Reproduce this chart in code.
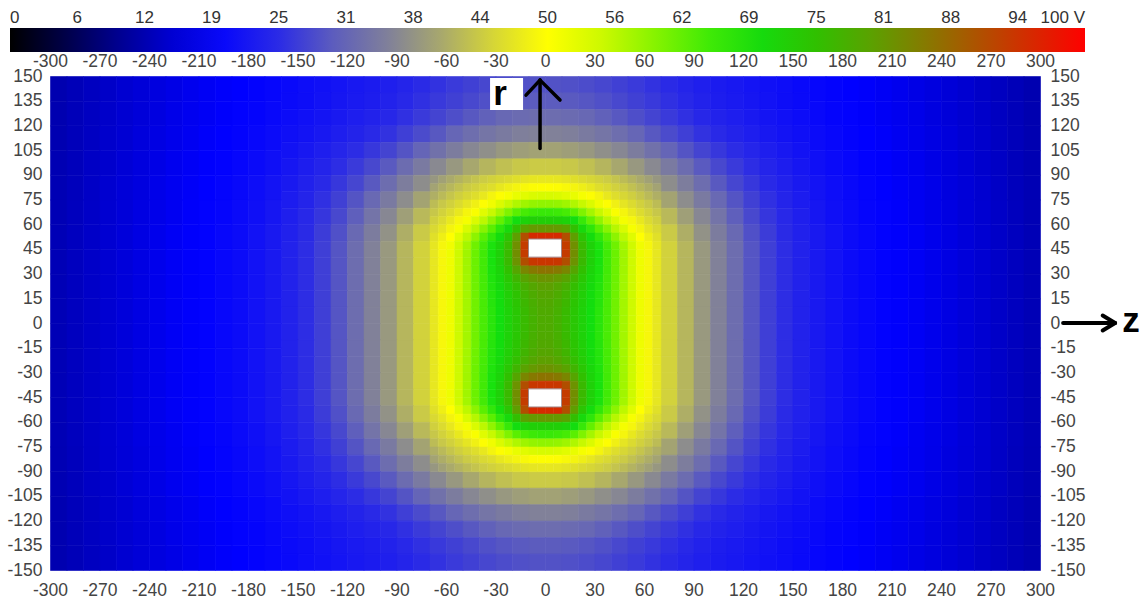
{
"width":990,"height":494,
"autosize":{"type":"none"},
"padding":{"left":50,"top":76,"right":107,"bottom":32},
"background":"white",
"config":{"view":{"stroke":null},"axis":{"labelFont":"Liberation Sans","labelFontSize":17.5,"labelColor":"#444","ticks":false,"domain":false,"grid":false,"title":null,"labelOverlap":false,"labelFlush":false},"legend":{"gradientHorizontalMaxLength":1100}},
"datasets":{
"core":[
{"z":-67.5,"r":87.5,"v":38.3},{"z":-62.5,"r":87.5,"v":39.3},{"z":-57.5,"r":87.5,"v":40.3},{"z":-52.5,"r":87.5,"v":41.2},{"z":-47.5,"r":87.5,"v":42.1},{"z":-42.5,"r":87.5,"v":42.9},{"z":-37.5,"r":87.5,"v":43.7},{"z":-32.5,"r":87.5,"v":44.4},{"z":-27.5,"r":87.5,"v":45},{"z":-22.5,"r":87.5,"v":45.5},{"z":-17.5,"r":87.5,"v":46.1},{"z":-12.5,"r":87.5,"v":46.6},{"z":-7.5,"r":87.5,"v":46.9},{"z":-2.5,"r":87.5,"v":47.1},{"z":2.5,"r":87.5,"v":47.1},{"z":7.5,"r":87.5,"v":46.9},{"z":12.5,"r":87.5,"v":46.6},{"z":17.5,"r":87.5,"v":46.1},{"z":22.5,"r":87.5,"v":45.5},{"z":27.5,"r":87.5,"v":45},{"z":32.5,"r":87.5,"v":44.4},{"z":37.5,"r":87.5,"v":43.7},{"z":42.5,"r":87.5,"v":42.9},{"z":47.5,"r":87.5,"v":42.1},{"z":52.5,"r":87.5,"v":41.2},{"z":57.5,"r":87.5,"v":40.3},{"z":62.5,"r":87.5,"v":39.3},{"z":67.5,"r":87.5,"v":38.3},
{"z":-67.5,"r":82.5,"v":39.5},{"z":-62.5,"r":82.5,"v":40.6},{"z":-57.5,"r":82.5,"v":41.6},{"z":-52.5,"r":82.5,"v":42.6},{"z":-47.5,"r":82.5,"v":43.6},{"z":-42.5,"r":82.5,"v":44.4},{"z":-37.5,"r":82.5,"v":45.3},{"z":-32.5,"r":82.5,"v":46},{"z":-27.5,"r":82.5,"v":47.1},{"z":-22.5,"r":82.5,"v":47.9},{"z":-17.5,"r":82.5,"v":48.6},{"z":-12.5,"r":82.5,"v":49.2},{"z":-7.5,"r":82.5,"v":49.6},{"z":-2.5,"r":82.5,"v":49.8},{"z":2.5,"r":82.5,"v":49.8},{"z":7.5,"r":82.5,"v":49.6},{"z":12.5,"r":82.5,"v":49.2},{"z":17.5,"r":82.5,"v":48.6},{"z":22.5,"r":82.5,"v":47.9},{"z":27.5,"r":82.5,"v":47.1},{"z":32.5,"r":82.5,"v":46},{"z":37.5,"r":82.5,"v":45.3},{"z":42.5,"r":82.5,"v":44.4},{"z":47.5,"r":82.5,"v":43.6},{"z":52.5,"r":82.5,"v":42.6},{"z":57.5,"r":82.5,"v":41.6},{"z":62.5,"r":82.5,"v":40.6},{"z":67.5,"r":82.5,"v":39.5},
{"z":-67.5,"r":77.5,"v":40.8},{"z":-62.5,"r":77.5,"v":41.9},{"z":-57.5,"r":77.5,"v":43},{"z":-52.5,"r":77.5,"v":44.1},{"z":-47.5,"r":77.5,"v":45.1},{"z":-42.5,"r":77.5,"v":46},{"z":-37.5,"r":77.5,"v":47.2},{"z":-32.5,"r":77.5,"v":48.6},{"z":-27.5,"r":77.5,"v":49.8},{"z":-22.5,"r":77.5,"v":50.9},{"z":-17.5,"r":77.5,"v":52.2},{"z":-12.5,"r":77.5,"v":53},{"z":-7.5,"r":77.5,"v":53.7},{"z":-2.5,"r":77.5,"v":54},{"z":2.5,"r":77.5,"v":54},{"z":7.5,"r":77.5,"v":53.7},{"z":12.5,"r":77.5,"v":53},{"z":17.5,"r":77.5,"v":52.2},{"z":22.5,"r":77.5,"v":50.9},{"z":27.5,"r":77.5,"v":49.8},{"z":32.5,"r":77.5,"v":48.6},{"z":37.5,"r":77.5,"v":47.2},{"z":42.5,"r":77.5,"v":46},{"z":47.5,"r":77.5,"v":45.1},{"z":52.5,"r":77.5,"v":44.1},{"z":57.5,"r":77.5,"v":43},{"z":62.5,"r":77.5,"v":41.9},{"z":67.5,"r":77.5,"v":40.8},
{"z":-67.5,"r":72.5,"v":42.1},{"z":-62.5,"r":72.5,"v":43.3},{"z":-57.5,"r":72.5,"v":44.4},{"z":-52.5,"r":72.5,"v":45.6},{"z":-47.5,"r":72.5,"v":46.8},{"z":-42.5,"r":72.5,"v":48.2},{"z":-37.5,"r":72.5,"v":49.8},{"z":-32.5,"r":72.5,"v":51.5},{"z":-27.5,"r":72.5,"v":53.6},{"z":-22.5,"r":72.5,"v":55.6},{"z":-17.5,"r":72.5,"v":57.3},{"z":-12.5,"r":72.5,"v":58.4},{"z":-7.5,"r":72.5,"v":59.1},{"z":-2.5,"r":72.5,"v":59.4},{"z":2.5,"r":72.5,"v":59.4},{"z":7.5,"r":72.5,"v":59.1},{"z":12.5,"r":72.5,"v":58.4},{"z":17.5,"r":72.5,"v":57.3},{"z":22.5,"r":72.5,"v":55.6},{"z":27.5,"r":72.5,"v":53.6},{"z":32.5,"r":72.5,"v":51.5},{"z":37.5,"r":72.5,"v":49.8},{"z":42.5,"r":72.5,"v":48.2},{"z":47.5,"r":72.5,"v":46.8},{"z":52.5,"r":72.5,"v":45.6},{"z":57.5,"r":72.5,"v":44.4},{"z":62.5,"r":72.5,"v":43.3},{"z":67.5,"r":72.5,"v":42.1},
{"z":-67.5,"r":67.5,"v":43.2},{"z":-62.5,"r":67.5,"v":44.5},{"z":-57.5,"r":67.5,"v":45.7},{"z":-52.5,"r":67.5,"v":47.2},{"z":-47.5,"r":67.5,"v":48.8},{"z":-42.5,"r":67.5,"v":50.6},{"z":-37.5,"r":67.5,"v":53.1},{"z":-32.5,"r":67.5,"v":55.5},{"z":-27.5,"r":67.5,"v":58},{"z":-22.5,"r":67.5,"v":60.5},{"z":-17.5,"r":67.5,"v":63},{"z":-12.5,"r":67.5,"v":64.5},{"z":-7.5,"r":67.5,"v":65.2},{"z":-2.5,"r":67.5,"v":65.6},{"z":2.5,"r":67.5,"v":65.6},{"z":7.5,"r":67.5,"v":65.2},{"z":12.5,"r":67.5,"v":64.5},{"z":17.5,"r":67.5,"v":63},{"z":22.5,"r":67.5,"v":60.5},{"z":27.5,"r":67.5,"v":58},{"z":32.5,"r":67.5,"v":55.5},{"z":37.5,"r":67.5,"v":53.1},{"z":42.5,"r":67.5,"v":50.6},{"z":47.5,"r":67.5,"v":48.8},{"z":52.5,"r":67.5,"v":47.2},{"z":57.5,"r":67.5,"v":45.7},{"z":62.5,"r":67.5,"v":44.5},{"z":67.5,"r":67.5,"v":43.2},
{"z":-67.5,"r":62.5,"v":44.3},{"z":-62.5,"r":62.5,"v":45.6},{"z":-57.5,"r":62.5,"v":47.2},{"z":-52.5,"r":62.5,"v":48.9},{"z":-47.5,"r":62.5,"v":51},{"z":-42.5,"r":62.5,"v":53.7},{"z":-37.5,"r":62.5,"v":56.5},{"z":-32.5,"r":62.5,"v":59.3},{"z":-27.5,"r":62.5,"v":62.3},{"z":-22.5,"r":62.5,"v":65.7},{"z":-17.5,"r":62.5,"v":69.3},{"z":-12.5,"r":62.5,"v":71.2},{"z":-7.5,"r":62.5,"v":72},{"z":-2.5,"r":62.5,"v":72.3},{"z":2.5,"r":62.5,"v":72.3},{"z":7.5,"r":62.5,"v":72},{"z":12.5,"r":62.5,"v":71.2},{"z":17.5,"r":62.5,"v":69.3},{"z":22.5,"r":62.5,"v":65.7},{"z":27.5,"r":62.5,"v":62.3},{"z":32.5,"r":62.5,"v":59.3},{"z":37.5,"r":62.5,"v":56.5},{"z":42.5,"r":62.5,"v":53.7},{"z":47.5,"r":62.5,"v":51},{"z":52.5,"r":62.5,"v":48.9},{"z":57.5,"r":62.5,"v":47.2},{"z":62.5,"r":62.5,"v":45.6},{"z":67.5,"r":62.5,"v":44.3},
{"z":-67.5,"r":57.5,"v":45.3},{"z":-62.5,"r":57.5,"v":46.8},{"z":-57.5,"r":57.5,"v":48.7},{"z":-52.5,"r":57.5,"v":50.8},{"z":-47.5,"r":57.5,"v":53.8},{"z":-42.5,"r":57.5,"v":56.9},{"z":-37.5,"r":57.5,"v":59.9},{"z":-32.5,"r":57.5,"v":63},{"z":-27.5,"r":57.5,"v":66.4},{"z":-22.5,"r":57.5,"v":70.2},{"z":-17.5,"r":57.5,"v":75.1},{"z":-12.5,"r":57.5,"v":80},{"z":-7.5,"r":57.5,"v":81.3},{"z":-2.5,"r":57.5,"v":81.5},{"z":2.5,"r":57.5,"v":81.5},{"z":7.5,"r":57.5,"v":81.3},{"z":12.5,"r":57.5,"v":80},{"z":17.5,"r":57.5,"v":75.1},{"z":22.5,"r":57.5,"v":70.2},{"z":27.5,"r":57.5,"v":66.4},{"z":32.5,"r":57.5,"v":63},{"z":37.5,"r":57.5,"v":59.9},{"z":42.5,"r":57.5,"v":56.9},{"z":47.5,"r":57.5,"v":53.8},{"z":52.5,"r":57.5,"v":50.8},{"z":57.5,"r":57.5,"v":48.7},{"z":62.5,"r":57.5,"v":46.8},{"z":67.5,"r":57.5,"v":45.3},
{"z":-67.5,"r":52.5,"v":46.2},{"z":-62.5,"r":52.5,"v":48.1},{"z":-57.5,"r":52.5,"v":50},{"z":-52.5,"r":52.5,"v":53.1},{"z":-47.5,"r":52.5,"v":56.4},{"z":-42.5,"r":52.5,"v":59.6},{"z":-37.5,"r":52.5,"v":62.9},{"z":-32.5,"r":52.5,"v":66.1},{"z":-27.5,"r":52.5,"v":69.5},{"z":-22.5,"r":52.5,"v":73.9},{"z":-17.5,"r":52.5,"v":80.4},{"z":-12.5,"r":52.5,"v":90.5},{"z":-7.5,"r":52.5,"v":94.8},{"z":-2.5,"r":52.5,"v":94.9},{"z":2.5,"r":52.5,"v":94.9},{"z":7.5,"r":52.5,"v":94.8},{"z":12.5,"r":52.5,"v":90.5},{"z":17.5,"r":52.5,"v":80.4},{"z":22.5,"r":52.5,"v":73.9},{"z":27.5,"r":52.5,"v":69.5},{"z":32.5,"r":52.5,"v":66.1},{"z":37.5,"r":52.5,"v":62.9},{"z":42.5,"r":52.5,"v":59.6},{"z":47.5,"r":52.5,"v":56.4},{"z":52.5,"r":52.5,"v":53.1},{"z":57.5,"r":52.5,"v":50},{"z":62.5,"r":52.5,"v":48.1},{"z":67.5,"r":52.5,"v":46.2},
{"z":-67.5,"r":47.5,"v":46.9},{"z":-62.5,"r":47.5,"v":48.9},{"z":-57.5,"r":47.5,"v":51.4},{"z":-52.5,"r":47.5,"v":54.7},{"z":-47.5,"r":47.5,"v":58.1},{"z":-42.5,"r":47.5,"v":61.5},{"z":-37.5,"r":47.5,"v":64.7},{"z":-32.5,"r":47.5,"v":67.8},{"z":-27.5,"r":47.5,"v":71.5},{"z":-22.5,"r":47.5,"v":75.9},{"z":-17.5,"r":47.5,"v":82.4},{"z":-12.5,"r":47.5,"v":92.6},{"z":-7.5,"r":47.5,"v":100},{"z":-2.5,"r":47.5,"v":100},{"z":2.5,"r":47.5,"v":100},{"z":7.5,"r":47.5,"v":100},{"z":12.5,"r":47.5,"v":92.6},{"z":17.5,"r":47.5,"v":82.4},{"z":22.5,"r":47.5,"v":75.9},{"z":27.5,"r":47.5,"v":71.5},{"z":32.5,"r":47.5,"v":67.8},{"z":37.5,"r":47.5,"v":64.7},{"z":42.5,"r":47.5,"v":61.5},{"z":47.5,"r":47.5,"v":58.1},{"z":52.5,"r":47.5,"v":54.7},{"z":57.5,"r":47.5,"v":51.4},{"z":62.5,"r":47.5,"v":48.9},{"z":67.5,"r":47.5,"v":46.9},
{"z":-67.5,"r":42.5,"v":47},{"z":-62.5,"r":42.5,"v":49},{"z":-57.5,"r":42.5,"v":51.6},{"z":-52.5,"r":42.5,"v":54.9},{"z":-47.5,"r":42.5,"v":58.3},{"z":-42.5,"r":42.5,"v":61.8},{"z":-37.5,"r":42.5,"v":65},{"z":-32.5,"r":42.5,"v":68.1},{"z":-27.5,"r":42.5,"v":71.6},{"z":-22.5,"r":42.5,"v":76.2},{"z":-17.5,"r":42.5,"v":82.7},{"z":-12.5,"r":42.5,"v":92.8},{"z":-7.5,"r":42.5,"v":100},{"z":-2.5,"r":42.5,"v":100},{"z":2.5,"r":42.5,"v":100},{"z":7.5,"r":42.5,"v":100},{"z":12.5,"r":42.5,"v":92.8},{"z":17.5,"r":42.5,"v":82.7},{"z":22.5,"r":42.5,"v":76.2},{"z":27.5,"r":42.5,"v":71.6},{"z":32.5,"r":42.5,"v":68.1},{"z":37.5,"r":42.5,"v":65},{"z":42.5,"r":42.5,"v":61.8},{"z":47.5,"r":42.5,"v":58.3},{"z":52.5,"r":42.5,"v":54.9},{"z":57.5,"r":42.5,"v":51.6},{"z":62.5,"r":42.5,"v":49},{"z":67.5,"r":42.5,"v":47},
{"z":-67.5,"r":37.5,"v":47},{"z":-62.5,"r":37.5,"v":49},{"z":-57.5,"r":37.5,"v":51.6},{"z":-52.5,"r":37.5,"v":54.9},{"z":-47.5,"r":37.5,"v":58.3},{"z":-42.5,"r":37.5,"v":61.8},{"z":-37.5,"r":37.5,"v":64.9},{"z":-32.5,"r":37.5,"v":68.1},{"z":-27.5,"r":37.5,"v":71.6},{"z":-22.5,"r":37.5,"v":76.1},{"z":-17.5,"r":37.5,"v":82.1},{"z":-12.5,"r":37.5,"v":90.4},{"z":-7.5,"r":37.5,"v":93.3},{"z":-2.5,"r":37.5,"v":93.5},{"z":2.5,"r":37.5,"v":93.5},{"z":7.5,"r":37.5,"v":93.3},{"z":12.5,"r":37.5,"v":90.4},{"z":17.5,"r":37.5,"v":82.1},{"z":22.5,"r":37.5,"v":76.1},{"z":27.5,"r":37.5,"v":71.6},{"z":32.5,"r":37.5,"v":68.1},{"z":37.5,"r":37.5,"v":64.9},{"z":42.5,"r":37.5,"v":61.8},{"z":47.5,"r":37.5,"v":58.3},{"z":52.5,"r":37.5,"v":54.9},{"z":57.5,"r":37.5,"v":51.6},{"z":62.5,"r":37.5,"v":49},{"z":67.5,"r":37.5,"v":47},
{"z":-67.5,"r":32.5,"v":47},{"z":-62.5,"r":32.5,"v":49},{"z":-57.5,"r":32.5,"v":51.6},{"z":-52.5,"r":32.5,"v":54.9},{"z":-47.5,"r":32.5,"v":58.3},{"z":-42.5,"r":32.5,"v":61.7},{"z":-37.5,"r":32.5,"v":64.9},{"z":-32.5,"r":32.5,"v":67.9},{"z":-27.5,"r":32.5,"v":71.1},{"z":-22.5,"r":32.5,"v":75},{"z":-17.5,"r":32.5,"v":79.4},{"z":-12.5,"r":32.5,"v":83.7},{"z":-7.5,"r":32.5,"v":85.2},{"z":-2.5,"r":32.5,"v":85.9},{"z":2.5,"r":32.5,"v":85.9},{"z":7.5,"r":32.5,"v":85.2},{"z":12.5,"r":32.5,"v":83.7},{"z":17.5,"r":32.5,"v":79.4},{"z":22.5,"r":32.5,"v":75},{"z":27.5,"r":32.5,"v":71.1},{"z":32.5,"r":32.5,"v":67.9},{"z":37.5,"r":32.5,"v":64.9},{"z":42.5,"r":32.5,"v":61.7},{"z":47.5,"r":32.5,"v":58.3},{"z":52.5,"r":32.5,"v":54.9},{"z":57.5,"r":32.5,"v":51.6},{"z":62.5,"r":32.5,"v":49},{"z":67.5,"r":32.5,"v":47},
{"z":-67.5,"r":27.5,"v":47},{"z":-62.5,"r":27.5,"v":49},{"z":-57.5,"r":27.5,"v":51.6},{"z":-52.5,"r":27.5,"v":54.9},{"z":-47.5,"r":27.5,"v":58.2},{"z":-42.5,"r":27.5,"v":61.7},{"z":-37.5,"r":27.5,"v":64.7},{"z":-32.5,"r":27.5,"v":67.6},{"z":-27.5,"r":27.5,"v":70.6},{"z":-22.5,"r":27.5,"v":73.7},{"z":-17.5,"r":27.5,"v":76.9},{"z":-12.5,"r":27.5,"v":79.8},{"z":-7.5,"r":27.5,"v":81.3},{"z":-2.5,"r":27.5,"v":82.1},{"z":2.5,"r":27.5,"v":82.1},{"z":7.5,"r":27.5,"v":81.3},{"z":12.5,"r":27.5,"v":79.8},{"z":17.5,"r":27.5,"v":76.9},{"z":22.5,"r":27.5,"v":73.7},{"z":27.5,"r":27.5,"v":70.6},{"z":32.5,"r":27.5,"v":67.6},{"z":37.5,"r":27.5,"v":64.7},{"z":42.5,"r":27.5,"v":61.7},{"z":47.5,"r":27.5,"v":58.2},{"z":52.5,"r":27.5,"v":54.9},{"z":57.5,"r":27.5,"v":51.6},{"z":62.5,"r":27.5,"v":49},{"z":67.5,"r":27.5,"v":47},
{"z":-67.5,"r":22.5,"v":47},{"z":-62.5,"r":22.5,"v":49},{"z":-57.5,"r":22.5,"v":51.6},{"z":-52.5,"r":22.5,"v":54.9},{"z":-47.5,"r":22.5,"v":58.2},{"z":-42.5,"r":22.5,"v":61.6},{"z":-37.5,"r":22.5,"v":64.6},{"z":-32.5,"r":22.5,"v":67.3},{"z":-27.5,"r":22.5,"v":70},{"z":-22.5,"r":22.5,"v":72.7},{"z":-17.5,"r":22.5,"v":75.3},{"z":-12.5,"r":22.5,"v":77.8},{"z":-7.5,"r":22.5,"v":79.3},{"z":-2.5,"r":22.5,"v":80.3},{"z":2.5,"r":22.5,"v":80.3},{"z":7.5,"r":22.5,"v":79.3},{"z":12.5,"r":22.5,"v":77.8},{"z":17.5,"r":22.5,"v":75.3},{"z":22.5,"r":22.5,"v":72.7},{"z":27.5,"r":22.5,"v":70},{"z":32.5,"r":22.5,"v":67.3},{"z":37.5,"r":22.5,"v":64.6},{"z":42.5,"r":22.5,"v":61.6},{"z":47.5,"r":22.5,"v":58.2},{"z":52.5,"r":22.5,"v":54.9},{"z":57.5,"r":22.5,"v":51.6},{"z":62.5,"r":22.5,"v":49},{"z":67.5,"r":22.5,"v":47},
{"z":-67.5,"r":17.5,"v":47},{"z":-62.5,"r":17.5,"v":49},{"z":-57.5,"r":17.5,"v":51.6},{"z":-52.5,"r":17.5,"v":54.9},{"z":-47.5,"r":17.5,"v":58.1},{"z":-42.5,"r":17.5,"v":61.5},{"z":-37.5,"r":17.5,"v":64.5},{"z":-32.5,"r":17.5,"v":67.1},{"z":-27.5,"r":17.5,"v":69.6},{"z":-22.5,"r":17.5,"v":72.1},{"z":-17.5,"r":17.5,"v":74.5},{"z":-12.5,"r":17.5,"v":76.9},{"z":-7.5,"r":17.5,"v":78.4},{"z":-2.5,"r":17.5,"v":79.4},{"z":2.5,"r":17.5,"v":79.4},{"z":7.5,"r":17.5,"v":78.4},{"z":12.5,"r":17.5,"v":76.9},{"z":17.5,"r":17.5,"v":74.5},{"z":22.5,"r":17.5,"v":72.1},{"z":27.5,"r":17.5,"v":69.6},{"z":32.5,"r":17.5,"v":67.1},{"z":37.5,"r":17.5,"v":64.5},{"z":42.5,"r":17.5,"v":61.5},{"z":47.5,"r":17.5,"v":58.1},{"z":52.5,"r":17.5,"v":54.9},{"z":57.5,"r":17.5,"v":51.6},{"z":62.5,"r":17.5,"v":49},{"z":67.5,"r":17.5,"v":47},
{"z":-67.5,"r":12.5,"v":47},{"z":-62.5,"r":12.5,"v":49},{"z":-57.5,"r":12.5,"v":51.6},{"z":-52.5,"r":12.5,"v":54.9},{"z":-47.5,"r":12.5,"v":58.1},{"z":-42.5,"r":12.5,"v":61.4},{"z":-37.5,"r":12.5,"v":64.4},{"z":-32.5,"r":12.5,"v":67},{"z":-27.5,"r":12.5,"v":69.4},{"z":-22.5,"r":12.5,"v":71.8},{"z":-17.5,"r":12.5,"v":74.1},{"z":-12.5,"r":12.5,"v":76.4},{"z":-7.5,"r":12.5,"v":77.9},{"z":-2.5,"r":12.5,"v":78.9},{"z":2.5,"r":12.5,"v":78.9},{"z":7.5,"r":12.5,"v":77.9},{"z":12.5,"r":12.5,"v":76.4},{"z":17.5,"r":12.5,"v":74.1},{"z":22.5,"r":12.5,"v":71.8},{"z":27.5,"r":12.5,"v":69.4},{"z":32.5,"r":12.5,"v":67},{"z":37.5,"r":12.5,"v":64.4},{"z":42.5,"r":12.5,"v":61.4},{"z":47.5,"r":12.5,"v":58.1},{"z":52.5,"r":12.5,"v":54.9},{"z":57.5,"r":12.5,"v":51.6},{"z":62.5,"r":12.5,"v":49},{"z":67.5,"r":12.5,"v":47},
{"z":-67.5,"r":7.5,"v":47},{"z":-62.5,"r":7.5,"v":49},{"z":-57.5,"r":7.5,"v":51.6},{"z":-52.5,"r":7.5,"v":54.9},{"z":-47.5,"r":7.5,"v":58.1},{"z":-42.5,"r":7.5,"v":61.4},{"z":-37.5,"r":7.5,"v":64.3},{"z":-32.5,"r":7.5,"v":66.8},{"z":-27.5,"r":7.5,"v":69.1},{"z":-22.5,"r":7.5,"v":71.4},{"z":-17.5,"r":7.5,"v":73.7},{"z":-12.5,"r":7.5,"v":76},{"z":-7.5,"r":7.5,"v":77.7},{"z":-2.5,"r":7.5,"v":78.7},{"z":2.5,"r":7.5,"v":78.7},{"z":7.5,"r":7.5,"v":77.7},{"z":12.5,"r":7.5,"v":76},{"z":17.5,"r":7.5,"v":73.7},{"z":22.5,"r":7.5,"v":71.4},{"z":27.5,"r":7.5,"v":69.1},{"z":32.5,"r":7.5,"v":66.8},{"z":37.5,"r":7.5,"v":64.3},{"z":42.5,"r":7.5,"v":61.4},{"z":47.5,"r":7.5,"v":58.1},{"z":52.5,"r":7.5,"v":54.9},{"z":57.5,"r":7.5,"v":51.6},{"z":62.5,"r":7.5,"v":49},{"z":67.5,"r":7.5,"v":47},
{"z":-67.5,"r":2.5,"v":47},{"z":-62.5,"r":2.5,"v":49},{"z":-57.5,"r":2.5,"v":51.6},{"z":-52.5,"r":2.5,"v":54.9},{"z":-47.5,"r":2.5,"v":58.1},{"z":-42.5,"r":2.5,"v":61.4},{"z":-37.5,"r":2.5,"v":64.3},{"z":-32.5,"r":2.5,"v":66.8},{"z":-27.5,"r":2.5,"v":69.1},{"z":-22.5,"r":2.5,"v":71.4},{"z":-17.5,"r":2.5,"v":73.6},{"z":-12.5,"r":2.5,"v":75.9},{"z":-7.5,"r":2.5,"v":77.5},{"z":-2.5,"r":2.5,"v":78.5},{"z":2.5,"r":2.5,"v":78.5},{"z":7.5,"r":2.5,"v":77.5},{"z":12.5,"r":2.5,"v":75.9},{"z":17.5,"r":2.5,"v":73.6},{"z":22.5,"r":2.5,"v":71.4},{"z":27.5,"r":2.5,"v":69.1},{"z":32.5,"r":2.5,"v":66.8},{"z":37.5,"r":2.5,"v":64.3},{"z":42.5,"r":2.5,"v":61.4},{"z":47.5,"r":2.5,"v":58.1},{"z":52.5,"r":2.5,"v":54.9},{"z":57.5,"r":2.5,"v":51.6},{"z":62.5,"r":2.5,"v":49},{"z":67.5,"r":2.5,"v":47},
{"z":-67.5,"r":-2.5,"v":47},{"z":-62.5,"r":-2.5,"v":49},{"z":-57.5,"r":-2.5,"v":51.6},{"z":-52.5,"r":-2.5,"v":54.9},{"z":-47.5,"r":-2.5,"v":58.1},{"z":-42.5,"r":-2.5,"v":61.4},{"z":-37.5,"r":-2.5,"v":64.3},{"z":-32.5,"r":-2.5,"v":66.8},{"z":-27.5,"r":-2.5,"v":69.1},{"z":-22.5,"r":-2.5,"v":71.4},{"z":-17.5,"r":-2.5,"v":73.6},{"z":-12.5,"r":-2.5,"v":75.9},{"z":-7.5,"r":-2.5,"v":77.5},{"z":-2.5,"r":-2.5,"v":78.5},{"z":2.5,"r":-2.5,"v":78.5},{"z":7.5,"r":-2.5,"v":77.5},{"z":12.5,"r":-2.5,"v":75.9},{"z":17.5,"r":-2.5,"v":73.6},{"z":22.5,"r":-2.5,"v":71.4},{"z":27.5,"r":-2.5,"v":69.1},{"z":32.5,"r":-2.5,"v":66.8},{"z":37.5,"r":-2.5,"v":64.3},{"z":42.5,"r":-2.5,"v":61.4},{"z":47.5,"r":-2.5,"v":58.1},{"z":52.5,"r":-2.5,"v":54.9},{"z":57.5,"r":-2.5,"v":51.6},{"z":62.5,"r":-2.5,"v":49},{"z":67.5,"r":-2.5,"v":47},
{"z":-67.5,"r":-7.5,"v":47},{"z":-62.5,"r":-7.5,"v":49},{"z":-57.5,"r":-7.5,"v":51.6},{"z":-52.5,"r":-7.5,"v":54.9},{"z":-47.5,"r":-7.5,"v":58.1},{"z":-42.5,"r":-7.5,"v":61.4},{"z":-37.5,"r":-7.5,"v":64.3},{"z":-32.5,"r":-7.5,"v":66.8},{"z":-27.5,"r":-7.5,"v":69.1},{"z":-22.5,"r":-7.5,"v":71.4},{"z":-17.5,"r":-7.5,"v":73.7},{"z":-12.5,"r":-7.5,"v":76},{"z":-7.5,"r":-7.5,"v":77.7},{"z":-2.5,"r":-7.5,"v":78.7},{"z":2.5,"r":-7.5,"v":78.7},{"z":7.5,"r":-7.5,"v":77.7},{"z":12.5,"r":-7.5,"v":76},{"z":17.5,"r":-7.5,"v":73.7},{"z":22.5,"r":-7.5,"v":71.4},{"z":27.5,"r":-7.5,"v":69.1},{"z":32.5,"r":-7.5,"v":66.8},{"z":37.5,"r":-7.5,"v":64.3},{"z":42.5,"r":-7.5,"v":61.4},{"z":47.5,"r":-7.5,"v":58.1},{"z":52.5,"r":-7.5,"v":54.9},{"z":57.5,"r":-7.5,"v":51.6},{"z":62.5,"r":-7.5,"v":49},{"z":67.5,"r":-7.5,"v":47},
{"z":-67.5,"r":-12.5,"v":47},{"z":-62.5,"r":-12.5,"v":49},{"z":-57.5,"r":-12.5,"v":51.6},{"z":-52.5,"r":-12.5,"v":54.9},{"z":-47.5,"r":-12.5,"v":58.1},{"z":-42.5,"r":-12.5,"v":61.4},{"z":-37.5,"r":-12.5,"v":64.4},{"z":-32.5,"r":-12.5,"v":67},{"z":-27.5,"r":-12.5,"v":69.4},{"z":-22.5,"r":-12.5,"v":71.8},{"z":-17.5,"r":-12.5,"v":74.1},{"z":-12.5,"r":-12.5,"v":76.4},{"z":-7.5,"r":-12.5,"v":77.9},{"z":-2.5,"r":-12.5,"v":78.9},{"z":2.5,"r":-12.5,"v":78.9},{"z":7.5,"r":-12.5,"v":77.9},{"z":12.5,"r":-12.5,"v":76.4},{"z":17.5,"r":-12.5,"v":74.1},{"z":22.5,"r":-12.5,"v":71.8},{"z":27.5,"r":-12.5,"v":69.4},{"z":32.5,"r":-12.5,"v":67},{"z":37.5,"r":-12.5,"v":64.4},{"z":42.5,"r":-12.5,"v":61.4},{"z":47.5,"r":-12.5,"v":58.1},{"z":52.5,"r":-12.5,"v":54.9},{"z":57.5,"r":-12.5,"v":51.6},{"z":62.5,"r":-12.5,"v":49},{"z":67.5,"r":-12.5,"v":47},
{"z":-67.5,"r":-17.5,"v":47},{"z":-62.5,"r":-17.5,"v":49},{"z":-57.5,"r":-17.5,"v":51.6},{"z":-52.5,"r":-17.5,"v":54.9},{"z":-47.5,"r":-17.5,"v":58.1},{"z":-42.5,"r":-17.5,"v":61.5},{"z":-37.5,"r":-17.5,"v":64.5},{"z":-32.5,"r":-17.5,"v":67.1},{"z":-27.5,"r":-17.5,"v":69.6},{"z":-22.5,"r":-17.5,"v":72.1},{"z":-17.5,"r":-17.5,"v":74.5},{"z":-12.5,"r":-17.5,"v":76.9},{"z":-7.5,"r":-17.5,"v":78.4},{"z":-2.5,"r":-17.5,"v":79.4},{"z":2.5,"r":-17.5,"v":79.4},{"z":7.5,"r":-17.5,"v":78.4},{"z":12.5,"r":-17.5,"v":76.9},{"z":17.5,"r":-17.5,"v":74.5},{"z":22.5,"r":-17.5,"v":72.1},{"z":27.5,"r":-17.5,"v":69.6},{"z":32.5,"r":-17.5,"v":67.1},{"z":37.5,"r":-17.5,"v":64.5},{"z":42.5,"r":-17.5,"v":61.5},{"z":47.5,"r":-17.5,"v":58.1},{"z":52.5,"r":-17.5,"v":54.9},{"z":57.5,"r":-17.5,"v":51.6},{"z":62.5,"r":-17.5,"v":49},{"z":67.5,"r":-17.5,"v":47},
{"z":-67.5,"r":-22.5,"v":47},{"z":-62.5,"r":-22.5,"v":49},{"z":-57.5,"r":-22.5,"v":51.6},{"z":-52.5,"r":-22.5,"v":54.9},{"z":-47.5,"r":-22.5,"v":58.2},{"z":-42.5,"r":-22.5,"v":61.6},{"z":-37.5,"r":-22.5,"v":64.6},{"z":-32.5,"r":-22.5,"v":67.3},{"z":-27.5,"r":-22.5,"v":70},{"z":-22.5,"r":-22.5,"v":72.7},{"z":-17.5,"r":-22.5,"v":75.3},{"z":-12.5,"r":-22.5,"v":77.8},{"z":-7.5,"r":-22.5,"v":79.3},{"z":-2.5,"r":-22.5,"v":80.3},{"z":2.5,"r":-22.5,"v":80.3},{"z":7.5,"r":-22.5,"v":79.3},{"z":12.5,"r":-22.5,"v":77.8},{"z":17.5,"r":-22.5,"v":75.3},{"z":22.5,"r":-22.5,"v":72.7},{"z":27.5,"r":-22.5,"v":70},{"z":32.5,"r":-22.5,"v":67.3},{"z":37.5,"r":-22.5,"v":64.6},{"z":42.5,"r":-22.5,"v":61.6},{"z":47.5,"r":-22.5,"v":58.2},{"z":52.5,"r":-22.5,"v":54.9},{"z":57.5,"r":-22.5,"v":51.6},{"z":62.5,"r":-22.5,"v":49},{"z":67.5,"r":-22.5,"v":47},
{"z":-67.5,"r":-27.5,"v":47},{"z":-62.5,"r":-27.5,"v":49},{"z":-57.5,"r":-27.5,"v":51.6},{"z":-52.5,"r":-27.5,"v":54.9},{"z":-47.5,"r":-27.5,"v":58.2},{"z":-42.5,"r":-27.5,"v":61.7},{"z":-37.5,"r":-27.5,"v":64.7},{"z":-32.5,"r":-27.5,"v":67.6},{"z":-27.5,"r":-27.5,"v":70.6},{"z":-22.5,"r":-27.5,"v":73.7},{"z":-17.5,"r":-27.5,"v":76.9},{"z":-12.5,"r":-27.5,"v":79.8},{"z":-7.5,"r":-27.5,"v":81.3},{"z":-2.5,"r":-27.5,"v":82.1},{"z":2.5,"r":-27.5,"v":82.1},{"z":7.5,"r":-27.5,"v":81.3},{"z":12.5,"r":-27.5,"v":79.8},{"z":17.5,"r":-27.5,"v":76.9},{"z":22.5,"r":-27.5,"v":73.7},{"z":27.5,"r":-27.5,"v":70.6},{"z":32.5,"r":-27.5,"v":67.6},{"z":37.5,"r":-27.5,"v":64.7},{"z":42.5,"r":-27.5,"v":61.7},{"z":47.5,"r":-27.5,"v":58.2},{"z":52.5,"r":-27.5,"v":54.9},{"z":57.5,"r":-27.5,"v":51.6},{"z":62.5,"r":-27.5,"v":49},{"z":67.5,"r":-27.5,"v":47},
{"z":-67.5,"r":-32.5,"v":47},{"z":-62.5,"r":-32.5,"v":49},{"z":-57.5,"r":-32.5,"v":51.6},{"z":-52.5,"r":-32.5,"v":54.9},{"z":-47.5,"r":-32.5,"v":58.3},{"z":-42.5,"r":-32.5,"v":61.7},{"z":-37.5,"r":-32.5,"v":64.9},{"z":-32.5,"r":-32.5,"v":67.9},{"z":-27.5,"r":-32.5,"v":71.1},{"z":-22.5,"r":-32.5,"v":75},{"z":-17.5,"r":-32.5,"v":79.4},{"z":-12.5,"r":-32.5,"v":83.7},{"z":-7.5,"r":-32.5,"v":85.2},{"z":-2.5,"r":-32.5,"v":85.9},{"z":2.5,"r":-32.5,"v":85.9},{"z":7.5,"r":-32.5,"v":85.2},{"z":12.5,"r":-32.5,"v":83.7},{"z":17.5,"r":-32.5,"v":79.4},{"z":22.5,"r":-32.5,"v":75},{"z":27.5,"r":-32.5,"v":71.1},{"z":32.5,"r":-32.5,"v":67.9},{"z":37.5,"r":-32.5,"v":64.9},{"z":42.5,"r":-32.5,"v":61.7},{"z":47.5,"r":-32.5,"v":58.3},{"z":52.5,"r":-32.5,"v":54.9},{"z":57.5,"r":-32.5,"v":51.6},{"z":62.5,"r":-32.5,"v":49},{"z":67.5,"r":-32.5,"v":47},
{"z":-67.5,"r":-37.5,"v":47},{"z":-62.5,"r":-37.5,"v":49},{"z":-57.5,"r":-37.5,"v":51.6},{"z":-52.5,"r":-37.5,"v":54.9},{"z":-47.5,"r":-37.5,"v":58.3},{"z":-42.5,"r":-37.5,"v":61.8},{"z":-37.5,"r":-37.5,"v":64.9},{"z":-32.5,"r":-37.5,"v":68.1},{"z":-27.5,"r":-37.5,"v":71.6},{"z":-22.5,"r":-37.5,"v":76.1},{"z":-17.5,"r":-37.5,"v":82.1},{"z":-12.5,"r":-37.5,"v":90.4},{"z":-7.5,"r":-37.5,"v":93.3},{"z":-2.5,"r":-37.5,"v":93.5},{"z":2.5,"r":-37.5,"v":93.5},{"z":7.5,"r":-37.5,"v":93.3},{"z":12.5,"r":-37.5,"v":90.4},{"z":17.5,"r":-37.5,"v":82.1},{"z":22.5,"r":-37.5,"v":76.1},{"z":27.5,"r":-37.5,"v":71.6},{"z":32.5,"r":-37.5,"v":68.1},{"z":37.5,"r":-37.5,"v":64.9},{"z":42.5,"r":-37.5,"v":61.8},{"z":47.5,"r":-37.5,"v":58.3},{"z":52.5,"r":-37.5,"v":54.9},{"z":57.5,"r":-37.5,"v":51.6},{"z":62.5,"r":-37.5,"v":49},{"z":67.5,"r":-37.5,"v":47},
{"z":-67.5,"r":-42.5,"v":47},{"z":-62.5,"r":-42.5,"v":49},{"z":-57.5,"r":-42.5,"v":51.6},{"z":-52.5,"r":-42.5,"v":54.9},{"z":-47.5,"r":-42.5,"v":58.3},{"z":-42.5,"r":-42.5,"v":61.8},{"z":-37.5,"r":-42.5,"v":65},{"z":-32.5,"r":-42.5,"v":68.1},{"z":-27.5,"r":-42.5,"v":71.6},{"z":-22.5,"r":-42.5,"v":76.2},{"z":-17.5,"r":-42.5,"v":82.7},{"z":-12.5,"r":-42.5,"v":92.8},{"z":-7.5,"r":-42.5,"v":100},{"z":-2.5,"r":-42.5,"v":100},{"z":2.5,"r":-42.5,"v":100},{"z":7.5,"r":-42.5,"v":100},{"z":12.5,"r":-42.5,"v":92.8},{"z":17.5,"r":-42.5,"v":82.7},{"z":22.5,"r":-42.5,"v":76.2},{"z":27.5,"r":-42.5,"v":71.6},{"z":32.5,"r":-42.5,"v":68.1},{"z":37.5,"r":-42.5,"v":65},{"z":42.5,"r":-42.5,"v":61.8},{"z":47.5,"r":-42.5,"v":58.3},{"z":52.5,"r":-42.5,"v":54.9},{"z":57.5,"r":-42.5,"v":51.6},{"z":62.5,"r":-42.5,"v":49},{"z":67.5,"r":-42.5,"v":47},
{"z":-67.5,"r":-47.5,"v":46.9},{"z":-62.5,"r":-47.5,"v":48.9},{"z":-57.5,"r":-47.5,"v":51.4},{"z":-52.5,"r":-47.5,"v":54.7},{"z":-47.5,"r":-47.5,"v":58.1},{"z":-42.5,"r":-47.5,"v":61.5},{"z":-37.5,"r":-47.5,"v":64.7},{"z":-32.5,"r":-47.5,"v":67.8},{"z":-27.5,"r":-47.5,"v":71.5},{"z":-22.5,"r":-47.5,"v":75.9},{"z":-17.5,"r":-47.5,"v":82.4},{"z":-12.5,"r":-47.5,"v":92.6},{"z":-7.5,"r":-47.5,"v":100},{"z":-2.5,"r":-47.5,"v":100},{"z":2.5,"r":-47.5,"v":100},{"z":7.5,"r":-47.5,"v":100},{"z":12.5,"r":-47.5,"v":92.6},{"z":17.5,"r":-47.5,"v":82.4},{"z":22.5,"r":-47.5,"v":75.9},{"z":27.5,"r":-47.5,"v":71.5},{"z":32.5,"r":-47.5,"v":67.8},{"z":37.5,"r":-47.5,"v":64.7},{"z":42.5,"r":-47.5,"v":61.5},{"z":47.5,"r":-47.5,"v":58.1},{"z":52.5,"r":-47.5,"v":54.7},{"z":57.5,"r":-47.5,"v":51.4},{"z":62.5,"r":-47.5,"v":48.9},{"z":67.5,"r":-47.5,"v":46.9},
{"z":-67.5,"r":-52.5,"v":46.2},{"z":-62.5,"r":-52.5,"v":48.1},{"z":-57.5,"r":-52.5,"v":50},{"z":-52.5,"r":-52.5,"v":53.1},{"z":-47.5,"r":-52.5,"v":56.4},{"z":-42.5,"r":-52.5,"v":59.6},{"z":-37.5,"r":-52.5,"v":62.9},{"z":-32.5,"r":-52.5,"v":66.1},{"z":-27.5,"r":-52.5,"v":69.5},{"z":-22.5,"r":-52.5,"v":73.9},{"z":-17.5,"r":-52.5,"v":80.4},{"z":-12.5,"r":-52.5,"v":90.5},{"z":-7.5,"r":-52.5,"v":94.8},{"z":-2.5,"r":-52.5,"v":94.9},{"z":2.5,"r":-52.5,"v":94.9},{"z":7.5,"r":-52.5,"v":94.8},{"z":12.5,"r":-52.5,"v":90.5},{"z":17.5,"r":-52.5,"v":80.4},{"z":22.5,"r":-52.5,"v":73.9},{"z":27.5,"r":-52.5,"v":69.5},{"z":32.5,"r":-52.5,"v":66.1},{"z":37.5,"r":-52.5,"v":62.9},{"z":42.5,"r":-52.5,"v":59.6},{"z":47.5,"r":-52.5,"v":56.4},{"z":52.5,"r":-52.5,"v":53.1},{"z":57.5,"r":-52.5,"v":50},{"z":62.5,"r":-52.5,"v":48.1},{"z":67.5,"r":-52.5,"v":46.2},
{"z":-67.5,"r":-57.5,"v":45.3},{"z":-62.5,"r":-57.5,"v":46.8},{"z":-57.5,"r":-57.5,"v":48.7},{"z":-52.5,"r":-57.5,"v":50.8},{"z":-47.5,"r":-57.5,"v":53.8},{"z":-42.5,"r":-57.5,"v":56.9},{"z":-37.5,"r":-57.5,"v":59.9},{"z":-32.5,"r":-57.5,"v":63},{"z":-27.5,"r":-57.5,"v":66.4},{"z":-22.5,"r":-57.5,"v":70.2},{"z":-17.5,"r":-57.5,"v":75.1},{"z":-12.5,"r":-57.5,"v":80},{"z":-7.5,"r":-57.5,"v":81.3},{"z":-2.5,"r":-57.5,"v":81.5},{"z":2.5,"r":-57.5,"v":81.5},{"z":7.5,"r":-57.5,"v":81.3},{"z":12.5,"r":-57.5,"v":80},{"z":17.5,"r":-57.5,"v":75.1},{"z":22.5,"r":-57.5,"v":70.2},{"z":27.5,"r":-57.5,"v":66.4},{"z":32.5,"r":-57.5,"v":63},{"z":37.5,"r":-57.5,"v":59.9},{"z":42.5,"r":-57.5,"v":56.9},{"z":47.5,"r":-57.5,"v":53.8},{"z":52.5,"r":-57.5,"v":50.8},{"z":57.5,"r":-57.5,"v":48.7},{"z":62.5,"r":-57.5,"v":46.8},{"z":67.5,"r":-57.5,"v":45.3},
{"z":-67.5,"r":-62.5,"v":44.3},{"z":-62.5,"r":-62.5,"v":45.6},{"z":-57.5,"r":-62.5,"v":47.2},{"z":-52.5,"r":-62.5,"v":48.9},{"z":-47.5,"r":-62.5,"v":51},{"z":-42.5,"r":-62.5,"v":53.7},{"z":-37.5,"r":-62.5,"v":56.5},{"z":-32.5,"r":-62.5,"v":59.3},{"z":-27.5,"r":-62.5,"v":62.3},{"z":-22.5,"r":-62.5,"v":65.7},{"z":-17.5,"r":-62.5,"v":69.3},{"z":-12.5,"r":-62.5,"v":71.2},{"z":-7.5,"r":-62.5,"v":72},{"z":-2.5,"r":-62.5,"v":72.3},{"z":2.5,"r":-62.5,"v":72.3},{"z":7.5,"r":-62.5,"v":72},{"z":12.5,"r":-62.5,"v":71.2},{"z":17.5,"r":-62.5,"v":69.3},{"z":22.5,"r":-62.5,"v":65.7},{"z":27.5,"r":-62.5,"v":62.3},{"z":32.5,"r":-62.5,"v":59.3},{"z":37.5,"r":-62.5,"v":56.5},{"z":42.5,"r":-62.5,"v":53.7},{"z":47.5,"r":-62.5,"v":51},{"z":52.5,"r":-62.5,"v":48.9},{"z":57.5,"r":-62.5,"v":47.2},{"z":62.5,"r":-62.5,"v":45.6},{"z":67.5,"r":-62.5,"v":44.3},
{"z":-67.5,"r":-67.5,"v":43.2},{"z":-62.5,"r":-67.5,"v":44.5},{"z":-57.5,"r":-67.5,"v":45.7},{"z":-52.5,"r":-67.5,"v":47.2},{"z":-47.5,"r":-67.5,"v":48.8},{"z":-42.5,"r":-67.5,"v":50.6},{"z":-37.5,"r":-67.5,"v":53.1},{"z":-32.5,"r":-67.5,"v":55.5},{"z":-27.5,"r":-67.5,"v":58},{"z":-22.5,"r":-67.5,"v":60.5},{"z":-17.5,"r":-67.5,"v":63},{"z":-12.5,"r":-67.5,"v":64.5},{"z":-7.5,"r":-67.5,"v":65.2},{"z":-2.5,"r":-67.5,"v":65.6},{"z":2.5,"r":-67.5,"v":65.6},{"z":7.5,"r":-67.5,"v":65.2},{"z":12.5,"r":-67.5,"v":64.5},{"z":17.5,"r":-67.5,"v":63},{"z":22.5,"r":-67.5,"v":60.5},{"z":27.5,"r":-67.5,"v":58},{"z":32.5,"r":-67.5,"v":55.5},{"z":37.5,"r":-67.5,"v":53.1},{"z":42.5,"r":-67.5,"v":50.6},{"z":47.5,"r":-67.5,"v":48.8},{"z":52.5,"r":-67.5,"v":47.2},{"z":57.5,"r":-67.5,"v":45.7},{"z":62.5,"r":-67.5,"v":44.5},{"z":67.5,"r":-67.5,"v":43.2},
{"z":-67.5,"r":-72.5,"v":42.1},{"z":-62.5,"r":-72.5,"v":43.3},{"z":-57.5,"r":-72.5,"v":44.4},{"z":-52.5,"r":-72.5,"v":45.6},{"z":-47.5,"r":-72.5,"v":46.8},{"z":-42.5,"r":-72.5,"v":48.2},{"z":-37.5,"r":-72.5,"v":49.8},{"z":-32.5,"r":-72.5,"v":51.5},{"z":-27.5,"r":-72.5,"v":53.6},{"z":-22.5,"r":-72.5,"v":55.6},{"z":-17.5,"r":-72.5,"v":57.3},{"z":-12.5,"r":-72.5,"v":58.4},{"z":-7.5,"r":-72.5,"v":59.1},{"z":-2.5,"r":-72.5,"v":59.4},{"z":2.5,"r":-72.5,"v":59.4},{"z":7.5,"r":-72.5,"v":59.1},{"z":12.5,"r":-72.5,"v":58.4},{"z":17.5,"r":-72.5,"v":57.3},{"z":22.5,"r":-72.5,"v":55.6},{"z":27.5,"r":-72.5,"v":53.6},{"z":32.5,"r":-72.5,"v":51.5},{"z":37.5,"r":-72.5,"v":49.8},{"z":42.5,"r":-72.5,"v":48.2},{"z":47.5,"r":-72.5,"v":46.8},{"z":52.5,"r":-72.5,"v":45.6},{"z":57.5,"r":-72.5,"v":44.4},{"z":62.5,"r":-72.5,"v":43.3},{"z":67.5,"r":-72.5,"v":42.1},
{"z":-67.5,"r":-77.5,"v":40.8},{"z":-62.5,"r":-77.5,"v":41.9},{"z":-57.5,"r":-77.5,"v":43},{"z":-52.5,"r":-77.5,"v":44.1},{"z":-47.5,"r":-77.5,"v":45.1},{"z":-42.5,"r":-77.5,"v":46},{"z":-37.5,"r":-77.5,"v":47.2},{"z":-32.5,"r":-77.5,"v":48.6},{"z":-27.5,"r":-77.5,"v":49.8},{"z":-22.5,"r":-77.5,"v":50.9},{"z":-17.5,"r":-77.5,"v":52.2},{"z":-12.5,"r":-77.5,"v":53},{"z":-7.5,"r":-77.5,"v":53.7},{"z":-2.5,"r":-77.5,"v":54},{"z":2.5,"r":-77.5,"v":54},{"z":7.5,"r":-77.5,"v":53.7},{"z":12.5,"r":-77.5,"v":53},{"z":17.5,"r":-77.5,"v":52.2},{"z":22.5,"r":-77.5,"v":50.9},{"z":27.5,"r":-77.5,"v":49.8},{"z":32.5,"r":-77.5,"v":48.6},{"z":37.5,"r":-77.5,"v":47.2},{"z":42.5,"r":-77.5,"v":46},{"z":47.5,"r":-77.5,"v":45.1},{"z":52.5,"r":-77.5,"v":44.1},{"z":57.5,"r":-77.5,"v":43},{"z":62.5,"r":-77.5,"v":41.9},{"z":67.5,"r":-77.5,"v":40.8},
{"z":-67.5,"r":-82.5,"v":39.5},{"z":-62.5,"r":-82.5,"v":40.6},{"z":-57.5,"r":-82.5,"v":41.6},{"z":-52.5,"r":-82.5,"v":42.6},{"z":-47.5,"r":-82.5,"v":43.6},{"z":-42.5,"r":-82.5,"v":44.4},{"z":-37.5,"r":-82.5,"v":45.3},{"z":-32.5,"r":-82.5,"v":46},{"z":-27.5,"r":-82.5,"v":47.1},{"z":-22.5,"r":-82.5,"v":47.9},{"z":-17.5,"r":-82.5,"v":48.6},{"z":-12.5,"r":-82.5,"v":49.2},{"z":-7.5,"r":-82.5,"v":49.6},{"z":-2.5,"r":-82.5,"v":49.8},{"z":2.5,"r":-82.5,"v":49.8},{"z":7.5,"r":-82.5,"v":49.6},{"z":12.5,"r":-82.5,"v":49.2},{"z":17.5,"r":-82.5,"v":48.6},{"z":22.5,"r":-82.5,"v":47.9},{"z":27.5,"r":-82.5,"v":47.1},{"z":32.5,"r":-82.5,"v":46},{"z":37.5,"r":-82.5,"v":45.3},{"z":42.5,"r":-82.5,"v":44.4},{"z":47.5,"r":-82.5,"v":43.6},{"z":52.5,"r":-82.5,"v":42.6},{"z":57.5,"r":-82.5,"v":41.6},{"z":62.5,"r":-82.5,"v":40.6},{"z":67.5,"r":-82.5,"v":39.5},
{"z":-67.5,"r":-87.5,"v":38.3},{"z":-62.5,"r":-87.5,"v":39.3},{"z":-57.5,"r":-87.5,"v":40.3},{"z":-52.5,"r":-87.5,"v":41.2},{"z":-47.5,"r":-87.5,"v":42.1},{"z":-42.5,"r":-87.5,"v":42.9},{"z":-37.5,"r":-87.5,"v":43.7},{"z":-32.5,"r":-87.5,"v":44.4},{"z":-27.5,"r":-87.5,"v":45},{"z":-22.5,"r":-87.5,"v":45.5},{"z":-17.5,"r":-87.5,"v":46.1},{"z":-12.5,"r":-87.5,"v":46.6},{"z":-7.5,"r":-87.5,"v":46.9},{"z":-2.5,"r":-87.5,"v":47.1},{"z":2.5,"r":-87.5,"v":47.1},{"z":7.5,"r":-87.5,"v":46.9},{"z":12.5,"r":-87.5,"v":46.6},{"z":17.5,"r":-87.5,"v":46.1},{"z":22.5,"r":-87.5,"v":45.5},{"z":27.5,"r":-87.5,"v":45},{"z":32.5,"r":-87.5,"v":44.4},{"z":37.5,"r":-87.5,"v":43.7},{"z":42.5,"r":-87.5,"v":42.9},{"z":47.5,"r":-87.5,"v":42.1},{"z":52.5,"r":-87.5,"v":41.2},{"z":57.5,"r":-87.5,"v":40.3},{"z":62.5,"r":-87.5,"v":39.3},{"z":67.5,"r":-87.5,"v":38.3}
],
"inner":[
{"z":-155,"r":145,"v":20.1},{"z":-145,"r":145,"v":20.6},{"z":-135,"r":145,"v":21.1},{"z":-125,"r":145,"v":21.6},{"z":-115,"r":145,"v":22.2},{"z":-105,"r":145,"v":22.7},{"z":-95,"r":145,"v":23.3},{"z":-85,"r":145,"v":24},{"z":-75,"r":145,"v":24.9},{"z":-65,"r":145,"v":25.7},{"z":-55,"r":145,"v":26.5},{"z":-45,"r":145,"v":27.2},{"z":-35,"r":145,"v":27.9},{"z":-25,"r":145,"v":28.4},{"z":-15,"r":145,"v":28.8},{"z":-5,"r":145,"v":29},{"z":5,"r":145,"v":29},{"z":15,"r":145,"v":28.8},{"z":25,"r":145,"v":28.4},{"z":35,"r":145,"v":27.9},{"z":45,"r":145,"v":27.2},{"z":55,"r":145,"v":26.5},{"z":65,"r":145,"v":25.7},{"z":75,"r":145,"v":24.9},{"z":85,"r":145,"v":24},{"z":95,"r":145,"v":23.3},{"z":105,"r":145,"v":22.7},{"z":115,"r":145,"v":22.2},{"z":125,"r":145,"v":21.6},{"z":135,"r":145,"v":21.1},{"z":145,"r":145,"v":20.6},{"z":155,"r":145,"v":20.1},
{"z":-155,"r":135,"v":20.2},{"z":-145,"r":135,"v":20.7},{"z":-135,"r":135,"v":21.3},{"z":-125,"r":135,"v":21.9},{"z":-115,"r":135,"v":22.5},{"z":-105,"r":135,"v":23},{"z":-95,"r":135,"v":23.7},{"z":-85,"r":135,"v":24.5},{"z":-75,"r":135,"v":25.5},{"z":-65,"r":135,"v":26.4},{"z":-55,"r":135,"v":27.2},{"z":-45,"r":135,"v":28},{"z":-35,"r":135,"v":28.8},{"z":-25,"r":135,"v":29.4},{"z":-15,"r":135,"v":29.8},{"z":-5,"r":135,"v":30},{"z":5,"r":135,"v":30},{"z":15,"r":135,"v":29.8},{"z":25,"r":135,"v":29.4},{"z":35,"r":135,"v":28.8},{"z":45,"r":135,"v":28},{"z":55,"r":135,"v":27.2},{"z":65,"r":135,"v":26.4},{"z":75,"r":135,"v":25.5},{"z":85,"r":135,"v":24.5},{"z":95,"r":135,"v":23.7},{"z":105,"r":135,"v":23},{"z":115,"r":135,"v":22.5},{"z":125,"r":135,"v":21.9},{"z":135,"r":135,"v":21.3},{"z":145,"r":135,"v":20.7},{"z":155,"r":135,"v":20.2},
{"z":-155,"r":125,"v":20.5},{"z":-145,"r":125,"v":21.1},{"z":-135,"r":125,"v":21.7},{"z":-125,"r":125,"v":22.4},{"z":-115,"r":125,"v":23.1},{"z":-105,"r":125,"v":23.7},{"z":-95,"r":125,"v":24.4},{"z":-85,"r":125,"v":25.5},{"z":-75,"r":125,"v":26.5},{"z":-65,"r":125,"v":27.6},{"z":-55,"r":125,"v":28.6},{"z":-45,"r":125,"v":29.6},{"z":-35,"r":125,"v":30.5},{"z":-25,"r":125,"v":31.2},{"z":-15,"r":125,"v":31.7},{"z":-5,"r":125,"v":32},{"z":5,"r":125,"v":32},{"z":15,"r":125,"v":31.7},{"z":25,"r":125,"v":31.2},{"z":35,"r":125,"v":30.5},{"z":45,"r":125,"v":29.6},{"z":55,"r":125,"v":28.6},{"z":65,"r":125,"v":27.6},{"z":75,"r":125,"v":26.5},{"z":85,"r":125,"v":25.5},{"z":95,"r":125,"v":24.4},{"z":105,"r":125,"v":23.7},{"z":115,"r":125,"v":23.1},{"z":125,"r":125,"v":22.4},{"z":135,"r":125,"v":21.7},{"z":145,"r":125,"v":21.1},{"z":155,"r":125,"v":20.5},
{"z":-155,"r":115,"v":20.9},{"z":-145,"r":115,"v":21.5},{"z":-135,"r":115,"v":22.3},{"z":-125,"r":115,"v":23.1},{"z":-115,"r":115,"v":23.9},{"z":-105,"r":115,"v":24.7},{"z":-95,"r":115,"v":25.7},{"z":-85,"r":115,"v":27},{"z":-75,"r":115,"v":28.3},{"z":-65,"r":115,"v":29.6},{"z":-55,"r":115,"v":31},{"z":-45,"r":115,"v":32.2},{"z":-35,"r":115,"v":33.3},{"z":-25,"r":115,"v":34.2},{"z":-15,"r":115,"v":34.9},{"z":-5,"r":115,"v":35.2},{"z":5,"r":115,"v":35.2},{"z":15,"r":115,"v":34.9},{"z":25,"r":115,"v":34.2},{"z":35,"r":115,"v":33.3},{"z":45,"r":115,"v":32.2},{"z":55,"r":115,"v":31},{"z":65,"r":115,"v":29.6},{"z":75,"r":115,"v":28.3},{"z":85,"r":115,"v":27},{"z":95,"r":115,"v":25.7},{"z":105,"r":115,"v":24.7},{"z":115,"r":115,"v":23.9},{"z":125,"r":115,"v":23.1},{"z":135,"r":115,"v":22.3},{"z":145,"r":115,"v":21.5},{"z":155,"r":115,"v":20.9},
{"z":-155,"r":105,"v":21.4},{"z":-145,"r":105,"v":22.2},{"z":-135,"r":105,"v":23.1},{"z":-125,"r":105,"v":24.1},{"z":-115,"r":105,"v":25.1},{"z":-105,"r":105,"v":26.2},{"z":-95,"r":105,"v":27.6},{"z":-85,"r":105,"v":29.2},{"z":-75,"r":105,"v":30.9},{"z":-65,"r":105,"v":32.7},{"z":-55,"r":105,"v":34.5},{"z":-45,"r":105,"v":36.2},{"z":-35,"r":105,"v":37.5},{"z":-25,"r":105,"v":38.4},{"z":-15,"r":105,"v":39},{"z":-5,"r":105,"v":39.4},{"z":5,"r":105,"v":39.4},{"z":15,"r":105,"v":39},{"z":25,"r":105,"v":38.4},{"z":35,"r":105,"v":37.5},{"z":45,"r":105,"v":36.2},{"z":55,"r":105,"v":34.5},{"z":65,"r":105,"v":32.7},{"z":75,"r":105,"v":30.9},{"z":85,"r":105,"v":29.2},{"z":95,"r":105,"v":27.6},{"z":105,"r":105,"v":26.2},{"z":115,"r":105,"v":25.1},{"z":125,"r":105,"v":24.1},{"z":135,"r":105,"v":23.1},{"z":145,"r":105,"v":22.2},{"z":155,"r":105,"v":21.4},
{"z":-155,"r":95,"v":21.9},{"z":-145,"r":95,"v":22.9},{"z":-135,"r":95,"v":24},{"z":-125,"r":95,"v":25.2},{"z":-115,"r":95,"v":26.5},{"z":-105,"r":95,"v":28},{"z":-95,"r":95,"v":29.8},{"z":-85,"r":95,"v":31.9},{"z":-75,"r":95,"v":34.1},{"z":-65,"r":95,"v":36.5},{"z":-55,"r":95,"v":38.4},{"z":-45,"r":95,"v":40},{"z":-35,"r":95,"v":41.4},{"z":-25,"r":95,"v":42.5},{"z":-15,"r":95,"v":43.3},{"z":-5,"r":95,"v":43.6},{"z":5,"r":95,"v":43.6},{"z":15,"r":95,"v":43.3},{"z":25,"r":95,"v":42.5},{"z":35,"r":95,"v":41.4},{"z":45,"r":95,"v":40},{"z":55,"r":95,"v":38.4},{"z":65,"r":95,"v":36.5},{"z":75,"r":95,"v":34.1},{"z":85,"r":95,"v":31.9},{"z":95,"r":95,"v":29.8},{"z":105,"r":95,"v":28},{"z":115,"r":95,"v":26.5},{"z":125,"r":95,"v":25.2},{"z":135,"r":95,"v":24},{"z":145,"r":95,"v":22.9},{"z":155,"r":95,"v":21.9},
{"z":-155,"r":85,"v":22.4},{"z":-145,"r":85,"v":23.5},{"z":-135,"r":85,"v":24.7},{"z":-125,"r":85,"v":26.2},{"z":-115,"r":85,"v":27.8},{"z":-105,"r":85,"v":29.7},{"z":-95,"r":85,"v":32},{"z":-85,"r":85,"v":34.6},{"z":-75,"r":85,"v":37.2},{"z":75,"r":85,"v":37.2},{"z":85,"r":85,"v":34.6},{"z":95,"r":85,"v":32},{"z":105,"r":85,"v":29.7},{"z":115,"r":85,"v":27.8},{"z":125,"r":85,"v":26.2},{"z":135,"r":85,"v":24.7},{"z":145,"r":85,"v":23.5},{"z":155,"r":85,"v":22.4},
{"z":-155,"r":75,"v":22.8},{"z":-145,"r":75,"v":24},{"z":-135,"r":75,"v":25.5},{"z":-125,"r":75,"v":27.2},{"z":-115,"r":75,"v":29.2},{"z":-105,"r":75,"v":31.4},{"z":-95,"r":75,"v":34.1},{"z":-85,"r":75,"v":37.1},{"z":-75,"r":75,"v":39.6},{"z":75,"r":75,"v":39.6},{"z":85,"r":75,"v":37.1},{"z":95,"r":75,"v":34.1},{"z":105,"r":75,"v":31.4},{"z":115,"r":75,"v":29.2},{"z":125,"r":75,"v":27.2},{"z":135,"r":75,"v":25.5},{"z":145,"r":75,"v":24},{"z":155,"r":75,"v":22.8},
{"z":-155,"r":65,"v":23.2},{"z":-145,"r":65,"v":24.5},{"z":-135,"r":65,"v":26.1},{"z":-125,"r":65,"v":28},{"z":-115,"r":65,"v":30.3},{"z":-105,"r":65,"v":33.1},{"z":-95,"r":65,"v":36.2},{"z":-85,"r":65,"v":39.1},{"z":-75,"r":65,"v":41.8},{"z":75,"r":65,"v":41.8},{"z":85,"r":65,"v":39.1},{"z":95,"r":65,"v":36.2},{"z":105,"r":65,"v":33.1},{"z":115,"r":65,"v":30.3},{"z":125,"r":65,"v":28},{"z":135,"r":65,"v":26.1},{"z":145,"r":65,"v":24.5},{"z":155,"r":65,"v":23.2},
{"z":-155,"r":55,"v":23.5},{"z":-145,"r":55,"v":24.9},{"z":-135,"r":55,"v":26.7},{"z":-125,"r":55,"v":28.8},{"z":-115,"r":55,"v":31.4},{"z":-105,"r":55,"v":34.5},{"z":-95,"r":55,"v":37.8},{"z":-85,"r":55,"v":40.7},{"z":-75,"r":55,"v":43.5},{"z":75,"r":55,"v":43.5},{"z":85,"r":55,"v":40.7},{"z":95,"r":55,"v":37.8},{"z":105,"r":55,"v":34.5},{"z":115,"r":55,"v":31.4},{"z":125,"r":55,"v":28.8},{"z":135,"r":55,"v":26.7},{"z":145,"r":55,"v":24.9},{"z":155,"r":55,"v":23.5},
{"z":-155,"r":45,"v":23.7},{"z":-145,"r":45,"v":25.2},{"z":-135,"r":45,"v":27},{"z":-125,"r":45,"v":29.3},{"z":-115,"r":45,"v":32},{"z":-105,"r":45,"v":35.3},{"z":-95,"r":45,"v":38.5},{"z":-85,"r":45,"v":41.5},{"z":-75,"r":45,"v":44.5},{"z":75,"r":45,"v":44.5},{"z":85,"r":45,"v":41.5},{"z":95,"r":45,"v":38.5},{"z":105,"r":45,"v":35.3},{"z":115,"r":45,"v":32},{"z":125,"r":45,"v":29.3},{"z":135,"r":45,"v":27},{"z":145,"r":45,"v":25.2},{"z":155,"r":45,"v":23.7},
{"z":-155,"r":35,"v":23.7},{"z":-145,"r":35,"v":25.2},{"z":-135,"r":35,"v":27},{"z":-125,"r":35,"v":29.3},{"z":-115,"r":35,"v":32},{"z":-105,"r":35,"v":35.3},{"z":-95,"r":35,"v":38.5},{"z":-85,"r":35,"v":41.5},{"z":-75,"r":35,"v":44.5},{"z":75,"r":35,"v":44.5},{"z":85,"r":35,"v":41.5},{"z":95,"r":35,"v":38.5},{"z":105,"r":35,"v":35.3},{"z":115,"r":35,"v":32},{"z":125,"r":35,"v":29.3},{"z":135,"r":35,"v":27},{"z":145,"r":35,"v":25.2},{"z":155,"r":35,"v":23.7},
{"z":-155,"r":25,"v":23.7},{"z":-145,"r":25,"v":25.2},{"z":-135,"r":25,"v":27},{"z":-125,"r":25,"v":29.3},{"z":-115,"r":25,"v":32},{"z":-105,"r":25,"v":35.3},{"z":-95,"r":25,"v":38.5},{"z":-85,"r":25,"v":41.5},{"z":-75,"r":25,"v":44.5},{"z":75,"r":25,"v":44.5},{"z":85,"r":25,"v":41.5},{"z":95,"r":25,"v":38.5},{"z":105,"r":25,"v":35.3},{"z":115,"r":25,"v":32},{"z":125,"r":25,"v":29.3},{"z":135,"r":25,"v":27},{"z":145,"r":25,"v":25.2},{"z":155,"r":25,"v":23.7},
{"z":-155,"r":15,"v":23.7},{"z":-145,"r":15,"v":25.2},{"z":-135,"r":15,"v":27},{"z":-125,"r":15,"v":29.3},{"z":-115,"r":15,"v":32},{"z":-105,"r":15,"v":35.3},{"z":-95,"r":15,"v":38.5},{"z":-85,"r":15,"v":41.5},{"z":-75,"r":15,"v":44.5},{"z":75,"r":15,"v":44.5},{"z":85,"r":15,"v":41.5},{"z":95,"r":15,"v":38.5},{"z":105,"r":15,"v":35.3},{"z":115,"r":15,"v":32},{"z":125,"r":15,"v":29.3},{"z":135,"r":15,"v":27},{"z":145,"r":15,"v":25.2},{"z":155,"r":15,"v":23.7},
{"z":-155,"r":5,"v":23.7},{"z":-145,"r":5,"v":25.2},{"z":-135,"r":5,"v":27},{"z":-125,"r":5,"v":29.3},{"z":-115,"r":5,"v":32},{"z":-105,"r":5,"v":35.3},{"z":-95,"r":5,"v":38.5},{"z":-85,"r":5,"v":41.5},{"z":-75,"r":5,"v":44.5},{"z":75,"r":5,"v":44.5},{"z":85,"r":5,"v":41.5},{"z":95,"r":5,"v":38.5},{"z":105,"r":5,"v":35.3},{"z":115,"r":5,"v":32},{"z":125,"r":5,"v":29.3},{"z":135,"r":5,"v":27},{"z":145,"r":5,"v":25.2},{"z":155,"r":5,"v":23.7},
{"z":-155,"r":-5,"v":23.7},{"z":-145,"r":-5,"v":25.2},{"z":-135,"r":-5,"v":27},{"z":-125,"r":-5,"v":29.3},{"z":-115,"r":-5,"v":32},{"z":-105,"r":-5,"v":35.3},{"z":-95,"r":-5,"v":38.5},{"z":-85,"r":-5,"v":41.5},{"z":-75,"r":-5,"v":44.5},{"z":75,"r":-5,"v":44.5},{"z":85,"r":-5,"v":41.5},{"z":95,"r":-5,"v":38.5},{"z":105,"r":-5,"v":35.3},{"z":115,"r":-5,"v":32},{"z":125,"r":-5,"v":29.3},{"z":135,"r":-5,"v":27},{"z":145,"r":-5,"v":25.2},{"z":155,"r":-5,"v":23.7},
{"z":-155,"r":-15,"v":23.7},{"z":-145,"r":-15,"v":25.2},{"z":-135,"r":-15,"v":27},{"z":-125,"r":-15,"v":29.3},{"z":-115,"r":-15,"v":32},{"z":-105,"r":-15,"v":35.3},{"z":-95,"r":-15,"v":38.5},{"z":-85,"r":-15,"v":41.5},{"z":-75,"r":-15,"v":44.5},{"z":75,"r":-15,"v":44.5},{"z":85,"r":-15,"v":41.5},{"z":95,"r":-15,"v":38.5},{"z":105,"r":-15,"v":35.3},{"z":115,"r":-15,"v":32},{"z":125,"r":-15,"v":29.3},{"z":135,"r":-15,"v":27},{"z":145,"r":-15,"v":25.2},{"z":155,"r":-15,"v":23.7},
{"z":-155,"r":-25,"v":23.7},{"z":-145,"r":-25,"v":25.2},{"z":-135,"r":-25,"v":27},{"z":-125,"r":-25,"v":29.3},{"z":-115,"r":-25,"v":32},{"z":-105,"r":-25,"v":35.3},{"z":-95,"r":-25,"v":38.5},{"z":-85,"r":-25,"v":41.5},{"z":-75,"r":-25,"v":44.5},{"z":75,"r":-25,"v":44.5},{"z":85,"r":-25,"v":41.5},{"z":95,"r":-25,"v":38.5},{"z":105,"r":-25,"v":35.3},{"z":115,"r":-25,"v":32},{"z":125,"r":-25,"v":29.3},{"z":135,"r":-25,"v":27},{"z":145,"r":-25,"v":25.2},{"z":155,"r":-25,"v":23.7},
{"z":-155,"r":-35,"v":23.7},{"z":-145,"r":-35,"v":25.2},{"z":-135,"r":-35,"v":27},{"z":-125,"r":-35,"v":29.3},{"z":-115,"r":-35,"v":32},{"z":-105,"r":-35,"v":35.3},{"z":-95,"r":-35,"v":38.5},{"z":-85,"r":-35,"v":41.5},{"z":-75,"r":-35,"v":44.5},{"z":75,"r":-35,"v":44.5},{"z":85,"r":-35,"v":41.5},{"z":95,"r":-35,"v":38.5},{"z":105,"r":-35,"v":35.3},{"z":115,"r":-35,"v":32},{"z":125,"r":-35,"v":29.3},{"z":135,"r":-35,"v":27},{"z":145,"r":-35,"v":25.2},{"z":155,"r":-35,"v":23.7},
{"z":-155,"r":-45,"v":23.7},{"z":-145,"r":-45,"v":25.2},{"z":-135,"r":-45,"v":27},{"z":-125,"r":-45,"v":29.3},{"z":-115,"r":-45,"v":32},{"z":-105,"r":-45,"v":35.3},{"z":-95,"r":-45,"v":38.5},{"z":-85,"r":-45,"v":41.5},{"z":-75,"r":-45,"v":44.5},{"z":75,"r":-45,"v":44.5},{"z":85,"r":-45,"v":41.5},{"z":95,"r":-45,"v":38.5},{"z":105,"r":-45,"v":35.3},{"z":115,"r":-45,"v":32},{"z":125,"r":-45,"v":29.3},{"z":135,"r":-45,"v":27},{"z":145,"r":-45,"v":25.2},{"z":155,"r":-45,"v":23.7},
{"z":-155,"r":-55,"v":23.5},{"z":-145,"r":-55,"v":24.9},{"z":-135,"r":-55,"v":26.7},{"z":-125,"r":-55,"v":28.8},{"z":-115,"r":-55,"v":31.4},{"z":-105,"r":-55,"v":34.5},{"z":-95,"r":-55,"v":37.8},{"z":-85,"r":-55,"v":40.7},{"z":-75,"r":-55,"v":43.5},{"z":75,"r":-55,"v":43.5},{"z":85,"r":-55,"v":40.7},{"z":95,"r":-55,"v":37.8},{"z":105,"r":-55,"v":34.5},{"z":115,"r":-55,"v":31.4},{"z":125,"r":-55,"v":28.8},{"z":135,"r":-55,"v":26.7},{"z":145,"r":-55,"v":24.9},{"z":155,"r":-55,"v":23.5},
{"z":-155,"r":-65,"v":23.2},{"z":-145,"r":-65,"v":24.5},{"z":-135,"r":-65,"v":26.1},{"z":-125,"r":-65,"v":28},{"z":-115,"r":-65,"v":30.3},{"z":-105,"r":-65,"v":33.1},{"z":-95,"r":-65,"v":36.2},{"z":-85,"r":-65,"v":39.1},{"z":-75,"r":-65,"v":41.8},{"z":75,"r":-65,"v":41.8},{"z":85,"r":-65,"v":39.1},{"z":95,"r":-65,"v":36.2},{"z":105,"r":-65,"v":33.1},{"z":115,"r":-65,"v":30.3},{"z":125,"r":-65,"v":28},{"z":135,"r":-65,"v":26.1},{"z":145,"r":-65,"v":24.5},{"z":155,"r":-65,"v":23.2},
{"z":-155,"r":-75,"v":22.8},{"z":-145,"r":-75,"v":24},{"z":-135,"r":-75,"v":25.5},{"z":-125,"r":-75,"v":27.2},{"z":-115,"r":-75,"v":29.2},{"z":-105,"r":-75,"v":31.4},{"z":-95,"r":-75,"v":34.1},{"z":-85,"r":-75,"v":37.1},{"z":-75,"r":-75,"v":39.6},{"z":75,"r":-75,"v":39.6},{"z":85,"r":-75,"v":37.1},{"z":95,"r":-75,"v":34.1},{"z":105,"r":-75,"v":31.4},{"z":115,"r":-75,"v":29.2},{"z":125,"r":-75,"v":27.2},{"z":135,"r":-75,"v":25.5},{"z":145,"r":-75,"v":24},{"z":155,"r":-75,"v":22.8},
{"z":-155,"r":-85,"v":22.4},{"z":-145,"r":-85,"v":23.5},{"z":-135,"r":-85,"v":24.7},{"z":-125,"r":-85,"v":26.2},{"z":-115,"r":-85,"v":27.8},{"z":-105,"r":-85,"v":29.7},{"z":-95,"r":-85,"v":32},{"z":-85,"r":-85,"v":34.6},{"z":-75,"r":-85,"v":37.2},{"z":75,"r":-85,"v":37.2},{"z":85,"r":-85,"v":34.6},{"z":95,"r":-85,"v":32},{"z":105,"r":-85,"v":29.7},{"z":115,"r":-85,"v":27.8},{"z":125,"r":-85,"v":26.2},{"z":135,"r":-85,"v":24.7},{"z":145,"r":-85,"v":23.5},{"z":155,"r":-85,"v":22.4},
{"z":-155,"r":-95,"v":21.9},{"z":-145,"r":-95,"v":22.9},{"z":-135,"r":-95,"v":24},{"z":-125,"r":-95,"v":25.2},{"z":-115,"r":-95,"v":26.5},{"z":-105,"r":-95,"v":28},{"z":-95,"r":-95,"v":29.8},{"z":-85,"r":-95,"v":31.9},{"z":-75,"r":-95,"v":34.1},{"z":-65,"r":-95,"v":36.5},{"z":-55,"r":-95,"v":38.4},{"z":-45,"r":-95,"v":40},{"z":-35,"r":-95,"v":41.4},{"z":-25,"r":-95,"v":42.5},{"z":-15,"r":-95,"v":43.3},{"z":-5,"r":-95,"v":43.6},{"z":5,"r":-95,"v":43.6},{"z":15,"r":-95,"v":43.3},{"z":25,"r":-95,"v":42.5},{"z":35,"r":-95,"v":41.4},{"z":45,"r":-95,"v":40},{"z":55,"r":-95,"v":38.4},{"z":65,"r":-95,"v":36.5},{"z":75,"r":-95,"v":34.1},{"z":85,"r":-95,"v":31.9},{"z":95,"r":-95,"v":29.8},{"z":105,"r":-95,"v":28},{"z":115,"r":-95,"v":26.5},{"z":125,"r":-95,"v":25.2},{"z":135,"r":-95,"v":24},{"z":145,"r":-95,"v":22.9},{"z":155,"r":-95,"v":21.9},
{"z":-155,"r":-105,"v":21.4},{"z":-145,"r":-105,"v":22.2},{"z":-135,"r":-105,"v":23.1},{"z":-125,"r":-105,"v":24.1},{"z":-115,"r":-105,"v":25.1},{"z":-105,"r":-105,"v":26.2},{"z":-95,"r":-105,"v":27.6},{"z":-85,"r":-105,"v":29.2},{"z":-75,"r":-105,"v":30.9},{"z":-65,"r":-105,"v":32.7},{"z":-55,"r":-105,"v":34.5},{"z":-45,"r":-105,"v":36.2},{"z":-35,"r":-105,"v":37.5},{"z":-25,"r":-105,"v":38.4},{"z":-15,"r":-105,"v":39},{"z":-5,"r":-105,"v":39.4},{"z":5,"r":-105,"v":39.4},{"z":15,"r":-105,"v":39},{"z":25,"r":-105,"v":38.4},{"z":35,"r":-105,"v":37.5},{"z":45,"r":-105,"v":36.2},{"z":55,"r":-105,"v":34.5},{"z":65,"r":-105,"v":32.7},{"z":75,"r":-105,"v":30.9},{"z":85,"r":-105,"v":29.2},{"z":95,"r":-105,"v":27.6},{"z":105,"r":-105,"v":26.2},{"z":115,"r":-105,"v":25.1},{"z":125,"r":-105,"v":24.1},{"z":135,"r":-105,"v":23.1},{"z":145,"r":-105,"v":22.2},{"z":155,"r":-105,"v":21.4},
{"z":-155,"r":-115,"v":20.9},{"z":-145,"r":-115,"v":21.5},{"z":-135,"r":-115,"v":22.3},{"z":-125,"r":-115,"v":23.1},{"z":-115,"r":-115,"v":23.9},{"z":-105,"r":-115,"v":24.7},{"z":-95,"r":-115,"v":25.7},{"z":-85,"r":-115,"v":27},{"z":-75,"r":-115,"v":28.3},{"z":-65,"r":-115,"v":29.6},{"z":-55,"r":-115,"v":31},{"z":-45,"r":-115,"v":32.2},{"z":-35,"r":-115,"v":33.3},{"z":-25,"r":-115,"v":34.2},{"z":-15,"r":-115,"v":34.9},{"z":-5,"r":-115,"v":35.2},{"z":5,"r":-115,"v":35.2},{"z":15,"r":-115,"v":34.9},{"z":25,"r":-115,"v":34.2},{"z":35,"r":-115,"v":33.3},{"z":45,"r":-115,"v":32.2},{"z":55,"r":-115,"v":31},{"z":65,"r":-115,"v":29.6},{"z":75,"r":-115,"v":28.3},{"z":85,"r":-115,"v":27},{"z":95,"r":-115,"v":25.7},{"z":105,"r":-115,"v":24.7},{"z":115,"r":-115,"v":23.9},{"z":125,"r":-115,"v":23.1},{"z":135,"r":-115,"v":22.3},{"z":145,"r":-115,"v":21.5},{"z":155,"r":-115,"v":20.9},
{"z":-155,"r":-125,"v":20.5},{"z":-145,"r":-125,"v":21.1},{"z":-135,"r":-125,"v":21.7},{"z":-125,"r":-125,"v":22.4},{"z":-115,"r":-125,"v":23.1},{"z":-105,"r":-125,"v":23.7},{"z":-95,"r":-125,"v":24.4},{"z":-85,"r":-125,"v":25.5},{"z":-75,"r":-125,"v":26.5},{"z":-65,"r":-125,"v":27.6},{"z":-55,"r":-125,"v":28.6},{"z":-45,"r":-125,"v":29.6},{"z":-35,"r":-125,"v":30.5},{"z":-25,"r":-125,"v":31.2},{"z":-15,"r":-125,"v":31.7},{"z":-5,"r":-125,"v":32},{"z":5,"r":-125,"v":32},{"z":15,"r":-125,"v":31.7},{"z":25,"r":-125,"v":31.2},{"z":35,"r":-125,"v":30.5},{"z":45,"r":-125,"v":29.6},{"z":55,"r":-125,"v":28.6},{"z":65,"r":-125,"v":27.6},{"z":75,"r":-125,"v":26.5},{"z":85,"r":-125,"v":25.5},{"z":95,"r":-125,"v":24.4},{"z":105,"r":-125,"v":23.7},{"z":115,"r":-125,"v":23.1},{"z":125,"r":-125,"v":22.4},{"z":135,"r":-125,"v":21.7},{"z":145,"r":-125,"v":21.1},{"z":155,"r":-125,"v":20.5},
{"z":-155,"r":-135,"v":20.2},{"z":-145,"r":-135,"v":20.7},{"z":-135,"r":-135,"v":21.3},{"z":-125,"r":-135,"v":21.9},{"z":-115,"r":-135,"v":22.5},{"z":-105,"r":-135,"v":23},{"z":-95,"r":-135,"v":23.7},{"z":-85,"r":-135,"v":24.5},{"z":-75,"r":-135,"v":25.5},{"z":-65,"r":-135,"v":26.4},{"z":-55,"r":-135,"v":27.2},{"z":-45,"r":-135,"v":28},{"z":-35,"r":-135,"v":28.8},{"z":-25,"r":-135,"v":29.4},{"z":-15,"r":-135,"v":29.8},{"z":-5,"r":-135,"v":30},{"z":5,"r":-135,"v":30},{"z":15,"r":-135,"v":29.8},{"z":25,"r":-135,"v":29.4},{"z":35,"r":-135,"v":28.8},{"z":45,"r":-135,"v":28},{"z":55,"r":-135,"v":27.2},{"z":65,"r":-135,"v":26.4},{"z":75,"r":-135,"v":25.5},{"z":85,"r":-135,"v":24.5},{"z":95,"r":-135,"v":23.7},{"z":105,"r":-135,"v":23},{"z":115,"r":-135,"v":22.5},{"z":125,"r":-135,"v":21.9},{"z":135,"r":-135,"v":21.3},{"z":145,"r":-135,"v":20.7},{"z":155,"r":-135,"v":20.2},
{"z":-155,"r":-145,"v":20.1},{"z":-145,"r":-145,"v":20.6},{"z":-135,"r":-145,"v":21.1},{"z":-125,"r":-145,"v":21.6},{"z":-115,"r":-145,"v":22.2},{"z":-105,"r":-145,"v":22.7},{"z":-95,"r":-145,"v":23.3},{"z":-85,"r":-145,"v":24},{"z":-75,"r":-145,"v":24.9},{"z":-65,"r":-145,"v":25.7},{"z":-55,"r":-145,"v":26.5},{"z":-45,"r":-145,"v":27.2},{"z":-35,"r":-145,"v":27.9},{"z":-25,"r":-145,"v":28.4},{"z":-15,"r":-145,"v":28.8},{"z":-5,"r":-145,"v":29},{"z":5,"r":-145,"v":29},{"z":15,"r":-145,"v":28.8},{"z":25,"r":-145,"v":28.4},{"z":35,"r":-145,"v":27.9},{"z":45,"r":-145,"v":27.2},{"z":55,"r":-145,"v":26.5},{"z":65,"r":-145,"v":25.7},{"z":75,"r":-145,"v":24.9},{"z":85,"r":-145,"v":24},{"z":95,"r":-145,"v":23.3},{"z":105,"r":-145,"v":22.7},{"z":115,"r":-145,"v":22.2},{"z":125,"r":-145,"v":21.6},{"z":135,"r":-145,"v":21.1},{"z":145,"r":-145,"v":20.6},{"z":155,"r":-145,"v":20.1}
],
"outer":[
{"z":-295,"r":142.5,"v":12.2},{"z":-285,"r":142.5,"v":12.8},{"z":-275,"r":142.5,"v":13.5},{"z":-265,"r":142.5,"v":14.2},{"z":-255,"r":142.5,"v":14.9},{"z":-245,"r":142.5,"v":15.5},{"z":-235,"r":142.5,"v":16.1},{"z":-225,"r":142.5,"v":16.7},{"z":-215,"r":142.5,"v":17.3},{"z":-205,"r":142.5,"v":17.9},{"z":-195,"r":142.5,"v":18.4},{"z":-185,"r":142.5,"v":18.8},{"z":-175,"r":142.5,"v":19.2},{"z":-165,"r":142.5,"v":19.6},{"z":165,"r":142.5,"v":19.6},{"z":175,"r":142.5,"v":19.2},{"z":185,"r":142.5,"v":18.8},{"z":195,"r":142.5,"v":18.4},{"z":205,"r":142.5,"v":17.9},{"z":215,"r":142.5,"v":17.3},{"z":225,"r":142.5,"v":16.7},{"z":235,"r":142.5,"v":16.1},{"z":245,"r":142.5,"v":15.5},{"z":255,"r":142.5,"v":14.9},{"z":265,"r":142.5,"v":14.2},{"z":275,"r":142.5,"v":13.5},{"z":285,"r":142.5,"v":12.8},{"z":295,"r":142.5,"v":12.2},
{"z":-295,"r":127.5,"v":12.2},{"z":-285,"r":127.5,"v":12.9},{"z":-275,"r":127.5,"v":13.6},{"z":-265,"r":127.5,"v":14.3},{"z":-255,"r":127.5,"v":15},{"z":-245,"r":127.5,"v":15.6},{"z":-235,"r":127.5,"v":16.2},{"z":-225,"r":127.5,"v":16.9},{"z":-215,"r":127.5,"v":17.5},{"z":-205,"r":127.5,"v":18},{"z":-195,"r":127.5,"v":18.5},{"z":-185,"r":127.5,"v":19},{"z":-175,"r":127.5,"v":19.4},{"z":-165,"r":127.5,"v":19.9},{"z":165,"r":127.5,"v":19.9},{"z":175,"r":127.5,"v":19.4},{"z":185,"r":127.5,"v":19},{"z":195,"r":127.5,"v":18.5},{"z":205,"r":127.5,"v":18},{"z":215,"r":127.5,"v":17.5},{"z":225,"r":127.5,"v":16.9},{"z":235,"r":127.5,"v":16.2},{"z":245,"r":127.5,"v":15.6},{"z":255,"r":127.5,"v":15},{"z":265,"r":127.5,"v":14.3},{"z":275,"r":127.5,"v":13.6},{"z":285,"r":127.5,"v":12.9},{"z":295,"r":127.5,"v":12.2},
{"z":-295,"r":112.5,"v":12.3},{"z":-285,"r":112.5,"v":13},{"z":-275,"r":112.5,"v":13.7},{"z":-265,"r":112.5,"v":14.5},{"z":-255,"r":112.5,"v":15.1},{"z":-245,"r":112.5,"v":15.8},{"z":-235,"r":112.5,"v":16.4},{"z":-225,"r":112.5,"v":17.1},{"z":-215,"r":112.5,"v":17.7},{"z":-205,"r":112.5,"v":18.3},{"z":-195,"r":112.5,"v":18.8},{"z":-185,"r":112.5,"v":19.2},{"z":-175,"r":112.5,"v":19.7},{"z":-165,"r":112.5,"v":20.3},{"z":165,"r":112.5,"v":20.3},{"z":175,"r":112.5,"v":19.7},{"z":185,"r":112.5,"v":19.2},{"z":195,"r":112.5,"v":18.8},{"z":205,"r":112.5,"v":18.3},{"z":215,"r":112.5,"v":17.7},{"z":225,"r":112.5,"v":17.1},{"z":235,"r":112.5,"v":16.4},{"z":245,"r":112.5,"v":15.8},{"z":255,"r":112.5,"v":15.1},{"z":265,"r":112.5,"v":14.5},{"z":275,"r":112.5,"v":13.7},{"z":285,"r":112.5,"v":13},{"z":295,"r":112.5,"v":12.3},
{"z":-295,"r":97.5,"v":12.4},{"z":-285,"r":97.5,"v":13.1},{"z":-275,"r":97.5,"v":13.9},{"z":-265,"r":97.5,"v":14.6},{"z":-255,"r":97.5,"v":15.3},{"z":-245,"r":97.5,"v":16},{"z":-235,"r":97.5,"v":16.7},{"z":-225,"r":97.5,"v":17.4},{"z":-215,"r":97.5,"v":18},{"z":-205,"r":97.5,"v":18.6},{"z":-195,"r":97.5,"v":19.1},{"z":-185,"r":97.5,"v":19.6},{"z":-175,"r":97.5,"v":20.2},{"z":-165,"r":97.5,"v":20.9},{"z":165,"r":97.5,"v":20.9},{"z":175,"r":97.5,"v":20.2},{"z":185,"r":97.5,"v":19.6},{"z":195,"r":97.5,"v":19.1},{"z":205,"r":97.5,"v":18.6},{"z":215,"r":97.5,"v":18},{"z":225,"r":97.5,"v":17.4},{"z":235,"r":97.5,"v":16.7},{"z":245,"r":97.5,"v":16},{"z":255,"r":97.5,"v":15.3},{"z":265,"r":97.5,"v":14.6},{"z":275,"r":97.5,"v":13.9},{"z":285,"r":97.5,"v":13.1},{"z":295,"r":97.5,"v":12.4},
{"z":-295,"r":82.5,"v":12.5},{"z":-285,"r":82.5,"v":13.2},{"z":-275,"r":82.5,"v":14},{"z":-265,"r":82.5,"v":14.8},{"z":-255,"r":82.5,"v":15.5},{"z":-245,"r":82.5,"v":16.1},{"z":-235,"r":82.5,"v":16.9},{"z":-225,"r":82.5,"v":17.6},{"z":-215,"r":82.5,"v":18.2},{"z":-205,"r":82.5,"v":18.8},{"z":-195,"r":82.5,"v":19.3},{"z":-185,"r":82.5,"v":19.9},{"z":-175,"r":82.5,"v":20.6},{"z":-165,"r":82.5,"v":21.5},{"z":165,"r":82.5,"v":21.5},{"z":175,"r":82.5,"v":20.6},{"z":185,"r":82.5,"v":19.9},{"z":195,"r":82.5,"v":19.3},{"z":205,"r":82.5,"v":18.8},{"z":215,"r":82.5,"v":18.2},{"z":225,"r":82.5,"v":17.6},{"z":235,"r":82.5,"v":16.9},{"z":245,"r":82.5,"v":16.1},{"z":255,"r":82.5,"v":15.5},{"z":265,"r":82.5,"v":14.8},{"z":275,"r":82.5,"v":14},{"z":285,"r":82.5,"v":13.2},{"z":295,"r":82.5,"v":12.5},
{"z":-295,"r":67.5,"v":12.6},{"z":-285,"r":67.5,"v":13.3},{"z":-275,"r":67.5,"v":14.1},{"z":-265,"r":67.5,"v":14.9},{"z":-255,"r":67.5,"v":15.6},{"z":-245,"r":67.5,"v":16.3},{"z":-235,"r":67.5,"v":17},{"z":-225,"r":67.5,"v":17.7},{"z":-215,"r":67.5,"v":18.4},{"z":-205,"r":67.5,"v":19},{"z":-195,"r":67.5,"v":19.5},{"z":-185,"r":67.5,"v":20.2},{"z":-175,"r":67.5,"v":21},{"z":-165,"r":67.5,"v":22},{"z":165,"r":67.5,"v":22},{"z":175,"r":67.5,"v":21},{"z":185,"r":67.5,"v":20.2},{"z":195,"r":67.5,"v":19.5},{"z":205,"r":67.5,"v":19},{"z":215,"r":67.5,"v":18.4},{"z":225,"r":67.5,"v":17.7},{"z":235,"r":67.5,"v":17},{"z":245,"r":67.5,"v":16.3},{"z":255,"r":67.5,"v":15.6},{"z":265,"r":67.5,"v":14.9},{"z":275,"r":67.5,"v":14.1},{"z":285,"r":67.5,"v":13.3},{"z":295,"r":67.5,"v":12.6},
{"z":-295,"r":52.5,"v":12.7},{"z":-285,"r":52.5,"v":13.4},{"z":-275,"r":52.5,"v":14.2},{"z":-265,"r":52.5,"v":15},{"z":-255,"r":52.5,"v":15.7},{"z":-245,"r":52.5,"v":16.4},{"z":-235,"r":52.5,"v":17.2},{"z":-225,"r":52.5,"v":17.9},{"z":-215,"r":52.5,"v":18.5},{"z":-205,"r":52.5,"v":19.1},{"z":-195,"r":52.5,"v":19.7},{"z":-185,"r":52.5,"v":20.4},{"z":-175,"r":52.5,"v":21.3},{"z":-165,"r":52.5,"v":22.4},{"z":165,"r":52.5,"v":22.4},{"z":175,"r":52.5,"v":21.3},{"z":185,"r":52.5,"v":20.4},{"z":195,"r":52.5,"v":19.7},{"z":205,"r":52.5,"v":19.1},{"z":215,"r":52.5,"v":18.5},{"z":225,"r":52.5,"v":17.9},{"z":235,"r":52.5,"v":17.2},{"z":245,"r":52.5,"v":16.4},{"z":255,"r":52.5,"v":15.7},{"z":265,"r":52.5,"v":15},{"z":275,"r":52.5,"v":14.2},{"z":285,"r":52.5,"v":13.4},{"z":295,"r":52.5,"v":12.7},
{"z":-295,"r":37.5,"v":12.7},{"z":-285,"r":37.5,"v":13.4},{"z":-275,"r":37.5,"v":14.2},{"z":-265,"r":37.5,"v":15},{"z":-255,"r":37.5,"v":15.7},{"z":-245,"r":37.5,"v":16.4},{"z":-235,"r":37.5,"v":17.2},{"z":-225,"r":37.5,"v":17.9},{"z":-215,"r":37.5,"v":18.5},{"z":-205,"r":37.5,"v":19.1},{"z":-195,"r":37.5,"v":19.7},{"z":-185,"r":37.5,"v":20.4},{"z":-175,"r":37.5,"v":21.3},{"z":-165,"r":37.5,"v":22.4},{"z":165,"r":37.5,"v":22.4},{"z":175,"r":37.5,"v":21.3},{"z":185,"r":37.5,"v":20.4},{"z":195,"r":37.5,"v":19.7},{"z":205,"r":37.5,"v":19.1},{"z":215,"r":37.5,"v":18.5},{"z":225,"r":37.5,"v":17.9},{"z":235,"r":37.5,"v":17.2},{"z":245,"r":37.5,"v":16.4},{"z":255,"r":37.5,"v":15.7},{"z":265,"r":37.5,"v":15},{"z":275,"r":37.5,"v":14.2},{"z":285,"r":37.5,"v":13.4},{"z":295,"r":37.5,"v":12.7},
{"z":-295,"r":22.5,"v":12.7},{"z":-285,"r":22.5,"v":13.4},{"z":-275,"r":22.5,"v":14.2},{"z":-265,"r":22.5,"v":15},{"z":-255,"r":22.5,"v":15.7},{"z":-245,"r":22.5,"v":16.4},{"z":-235,"r":22.5,"v":17.2},{"z":-225,"r":22.5,"v":17.9},{"z":-215,"r":22.5,"v":18.5},{"z":-205,"r":22.5,"v":19.1},{"z":-195,"r":22.5,"v":19.7},{"z":-185,"r":22.5,"v":20.4},{"z":-175,"r":22.5,"v":21.3},{"z":-165,"r":22.5,"v":22.4},{"z":165,"r":22.5,"v":22.4},{"z":175,"r":22.5,"v":21.3},{"z":185,"r":22.5,"v":20.4},{"z":195,"r":22.5,"v":19.7},{"z":205,"r":22.5,"v":19.1},{"z":215,"r":22.5,"v":18.5},{"z":225,"r":22.5,"v":17.9},{"z":235,"r":22.5,"v":17.2},{"z":245,"r":22.5,"v":16.4},{"z":255,"r":22.5,"v":15.7},{"z":265,"r":22.5,"v":15},{"z":275,"r":22.5,"v":14.2},{"z":285,"r":22.5,"v":13.4},{"z":295,"r":22.5,"v":12.7},
{"z":-295,"r":7.5,"v":12.7},{"z":-285,"r":7.5,"v":13.4},{"z":-275,"r":7.5,"v":14.2},{"z":-265,"r":7.5,"v":15},{"z":-255,"r":7.5,"v":15.7},{"z":-245,"r":7.5,"v":16.4},{"z":-235,"r":7.5,"v":17.2},{"z":-225,"r":7.5,"v":17.9},{"z":-215,"r":7.5,"v":18.5},{"z":-205,"r":7.5,"v":19.1},{"z":-195,"r":7.5,"v":19.7},{"z":-185,"r":7.5,"v":20.4},{"z":-175,"r":7.5,"v":21.3},{"z":-165,"r":7.5,"v":22.4},{"z":165,"r":7.5,"v":22.4},{"z":175,"r":7.5,"v":21.3},{"z":185,"r":7.5,"v":20.4},{"z":195,"r":7.5,"v":19.7},{"z":205,"r":7.5,"v":19.1},{"z":215,"r":7.5,"v":18.5},{"z":225,"r":7.5,"v":17.9},{"z":235,"r":7.5,"v":17.2},{"z":245,"r":7.5,"v":16.4},{"z":255,"r":7.5,"v":15.7},{"z":265,"r":7.5,"v":15},{"z":275,"r":7.5,"v":14.2},{"z":285,"r":7.5,"v":13.4},{"z":295,"r":7.5,"v":12.7},
{"z":-295,"r":-7.5,"v":12.7},{"z":-285,"r":-7.5,"v":13.4},{"z":-275,"r":-7.5,"v":14.2},{"z":-265,"r":-7.5,"v":15},{"z":-255,"r":-7.5,"v":15.7},{"z":-245,"r":-7.5,"v":16.4},{"z":-235,"r":-7.5,"v":17.2},{"z":-225,"r":-7.5,"v":17.9},{"z":-215,"r":-7.5,"v":18.5},{"z":-205,"r":-7.5,"v":19.1},{"z":-195,"r":-7.5,"v":19.7},{"z":-185,"r":-7.5,"v":20.4},{"z":-175,"r":-7.5,"v":21.3},{"z":-165,"r":-7.5,"v":22.4},{"z":165,"r":-7.5,"v":22.4},{"z":175,"r":-7.5,"v":21.3},{"z":185,"r":-7.5,"v":20.4},{"z":195,"r":-7.5,"v":19.7},{"z":205,"r":-7.5,"v":19.1},{"z":215,"r":-7.5,"v":18.5},{"z":225,"r":-7.5,"v":17.9},{"z":235,"r":-7.5,"v":17.2},{"z":245,"r":-7.5,"v":16.4},{"z":255,"r":-7.5,"v":15.7},{"z":265,"r":-7.5,"v":15},{"z":275,"r":-7.5,"v":14.2},{"z":285,"r":-7.5,"v":13.4},{"z":295,"r":-7.5,"v":12.7},
{"z":-295,"r":-22.5,"v":12.7},{"z":-285,"r":-22.5,"v":13.4},{"z":-275,"r":-22.5,"v":14.2},{"z":-265,"r":-22.5,"v":15},{"z":-255,"r":-22.5,"v":15.7},{"z":-245,"r":-22.5,"v":16.4},{"z":-235,"r":-22.5,"v":17.2},{"z":-225,"r":-22.5,"v":17.9},{"z":-215,"r":-22.5,"v":18.5},{"z":-205,"r":-22.5,"v":19.1},{"z":-195,"r":-22.5,"v":19.7},{"z":-185,"r":-22.5,"v":20.4},{"z":-175,"r":-22.5,"v":21.3},{"z":-165,"r":-22.5,"v":22.4},{"z":165,"r":-22.5,"v":22.4},{"z":175,"r":-22.5,"v":21.3},{"z":185,"r":-22.5,"v":20.4},{"z":195,"r":-22.5,"v":19.7},{"z":205,"r":-22.5,"v":19.1},{"z":215,"r":-22.5,"v":18.5},{"z":225,"r":-22.5,"v":17.9},{"z":235,"r":-22.5,"v":17.2},{"z":245,"r":-22.5,"v":16.4},{"z":255,"r":-22.5,"v":15.7},{"z":265,"r":-22.5,"v":15},{"z":275,"r":-22.5,"v":14.2},{"z":285,"r":-22.5,"v":13.4},{"z":295,"r":-22.5,"v":12.7},
{"z":-295,"r":-37.5,"v":12.7},{"z":-285,"r":-37.5,"v":13.4},{"z":-275,"r":-37.5,"v":14.2},{"z":-265,"r":-37.5,"v":15},{"z":-255,"r":-37.5,"v":15.7},{"z":-245,"r":-37.5,"v":16.4},{"z":-235,"r":-37.5,"v":17.2},{"z":-225,"r":-37.5,"v":17.9},{"z":-215,"r":-37.5,"v":18.5},{"z":-205,"r":-37.5,"v":19.1},{"z":-195,"r":-37.5,"v":19.7},{"z":-185,"r":-37.5,"v":20.4},{"z":-175,"r":-37.5,"v":21.3},{"z":-165,"r":-37.5,"v":22.4},{"z":165,"r":-37.5,"v":22.4},{"z":175,"r":-37.5,"v":21.3},{"z":185,"r":-37.5,"v":20.4},{"z":195,"r":-37.5,"v":19.7},{"z":205,"r":-37.5,"v":19.1},{"z":215,"r":-37.5,"v":18.5},{"z":225,"r":-37.5,"v":17.9},{"z":235,"r":-37.5,"v":17.2},{"z":245,"r":-37.5,"v":16.4},{"z":255,"r":-37.5,"v":15.7},{"z":265,"r":-37.5,"v":15},{"z":275,"r":-37.5,"v":14.2},{"z":285,"r":-37.5,"v":13.4},{"z":295,"r":-37.5,"v":12.7},
{"z":-295,"r":-52.5,"v":12.7},{"z":-285,"r":-52.5,"v":13.4},{"z":-275,"r":-52.5,"v":14.2},{"z":-265,"r":-52.5,"v":15},{"z":-255,"r":-52.5,"v":15.7},{"z":-245,"r":-52.5,"v":16.4},{"z":-235,"r":-52.5,"v":17.2},{"z":-225,"r":-52.5,"v":17.9},{"z":-215,"r":-52.5,"v":18.5},{"z":-205,"r":-52.5,"v":19.1},{"z":-195,"r":-52.5,"v":19.7},{"z":-185,"r":-52.5,"v":20.4},{"z":-175,"r":-52.5,"v":21.3},{"z":-165,"r":-52.5,"v":22.4},{"z":165,"r":-52.5,"v":22.4},{"z":175,"r":-52.5,"v":21.3},{"z":185,"r":-52.5,"v":20.4},{"z":195,"r":-52.5,"v":19.7},{"z":205,"r":-52.5,"v":19.1},{"z":215,"r":-52.5,"v":18.5},{"z":225,"r":-52.5,"v":17.9},{"z":235,"r":-52.5,"v":17.2},{"z":245,"r":-52.5,"v":16.4},{"z":255,"r":-52.5,"v":15.7},{"z":265,"r":-52.5,"v":15},{"z":275,"r":-52.5,"v":14.2},{"z":285,"r":-52.5,"v":13.4},{"z":295,"r":-52.5,"v":12.7},
{"z":-295,"r":-67.5,"v":12.6},{"z":-285,"r":-67.5,"v":13.3},{"z":-275,"r":-67.5,"v":14.1},{"z":-265,"r":-67.5,"v":14.9},{"z":-255,"r":-67.5,"v":15.6},{"z":-245,"r":-67.5,"v":16.3},{"z":-235,"r":-67.5,"v":17},{"z":-225,"r":-67.5,"v":17.7},{"z":-215,"r":-67.5,"v":18.4},{"z":-205,"r":-67.5,"v":19},{"z":-195,"r":-67.5,"v":19.5},{"z":-185,"r":-67.5,"v":20.2},{"z":-175,"r":-67.5,"v":21},{"z":-165,"r":-67.5,"v":22},{"z":165,"r":-67.5,"v":22},{"z":175,"r":-67.5,"v":21},{"z":185,"r":-67.5,"v":20.2},{"z":195,"r":-67.5,"v":19.5},{"z":205,"r":-67.5,"v":19},{"z":215,"r":-67.5,"v":18.4},{"z":225,"r":-67.5,"v":17.7},{"z":235,"r":-67.5,"v":17},{"z":245,"r":-67.5,"v":16.3},{"z":255,"r":-67.5,"v":15.6},{"z":265,"r":-67.5,"v":14.9},{"z":275,"r":-67.5,"v":14.1},{"z":285,"r":-67.5,"v":13.3},{"z":295,"r":-67.5,"v":12.6},
{"z":-295,"r":-82.5,"v":12.5},{"z":-285,"r":-82.5,"v":13.2},{"z":-275,"r":-82.5,"v":14},{"z":-265,"r":-82.5,"v":14.8},{"z":-255,"r":-82.5,"v":15.5},{"z":-245,"r":-82.5,"v":16.1},{"z":-235,"r":-82.5,"v":16.9},{"z":-225,"r":-82.5,"v":17.6},{"z":-215,"r":-82.5,"v":18.2},{"z":-205,"r":-82.5,"v":18.8},{"z":-195,"r":-82.5,"v":19.3},{"z":-185,"r":-82.5,"v":19.9},{"z":-175,"r":-82.5,"v":20.6},{"z":-165,"r":-82.5,"v":21.5},{"z":165,"r":-82.5,"v":21.5},{"z":175,"r":-82.5,"v":20.6},{"z":185,"r":-82.5,"v":19.9},{"z":195,"r":-82.5,"v":19.3},{"z":205,"r":-82.5,"v":18.8},{"z":215,"r":-82.5,"v":18.2},{"z":225,"r":-82.5,"v":17.6},{"z":235,"r":-82.5,"v":16.9},{"z":245,"r":-82.5,"v":16.1},{"z":255,"r":-82.5,"v":15.5},{"z":265,"r":-82.5,"v":14.8},{"z":275,"r":-82.5,"v":14},{"z":285,"r":-82.5,"v":13.2},{"z":295,"r":-82.5,"v":12.5},
{"z":-295,"r":-97.5,"v":12.4},{"z":-285,"r":-97.5,"v":13.1},{"z":-275,"r":-97.5,"v":13.9},{"z":-265,"r":-97.5,"v":14.6},{"z":-255,"r":-97.5,"v":15.3},{"z":-245,"r":-97.5,"v":16},{"z":-235,"r":-97.5,"v":16.7},{"z":-225,"r":-97.5,"v":17.4},{"z":-215,"r":-97.5,"v":18},{"z":-205,"r":-97.5,"v":18.6},{"z":-195,"r":-97.5,"v":19.1},{"z":-185,"r":-97.5,"v":19.6},{"z":-175,"r":-97.5,"v":20.2},{"z":-165,"r":-97.5,"v":20.9},{"z":165,"r":-97.5,"v":20.9},{"z":175,"r":-97.5,"v":20.2},{"z":185,"r":-97.5,"v":19.6},{"z":195,"r":-97.5,"v":19.1},{"z":205,"r":-97.5,"v":18.6},{"z":215,"r":-97.5,"v":18},{"z":225,"r":-97.5,"v":17.4},{"z":235,"r":-97.5,"v":16.7},{"z":245,"r":-97.5,"v":16},{"z":255,"r":-97.5,"v":15.3},{"z":265,"r":-97.5,"v":14.6},{"z":275,"r":-97.5,"v":13.9},{"z":285,"r":-97.5,"v":13.1},{"z":295,"r":-97.5,"v":12.4},
{"z":-295,"r":-112.5,"v":12.3},{"z":-285,"r":-112.5,"v":13},{"z":-275,"r":-112.5,"v":13.7},{"z":-265,"r":-112.5,"v":14.5},{"z":-255,"r":-112.5,"v":15.1},{"z":-245,"r":-112.5,"v":15.8},{"z":-235,"r":-112.5,"v":16.4},{"z":-225,"r":-112.5,"v":17.1},{"z":-215,"r":-112.5,"v":17.7},{"z":-205,"r":-112.5,"v":18.3},{"z":-195,"r":-112.5,"v":18.8},{"z":-185,"r":-112.5,"v":19.2},{"z":-175,"r":-112.5,"v":19.7},{"z":-165,"r":-112.5,"v":20.3},{"z":165,"r":-112.5,"v":20.3},{"z":175,"r":-112.5,"v":19.7},{"z":185,"r":-112.5,"v":19.2},{"z":195,"r":-112.5,"v":18.8},{"z":205,"r":-112.5,"v":18.3},{"z":215,"r":-112.5,"v":17.7},{"z":225,"r":-112.5,"v":17.1},{"z":235,"r":-112.5,"v":16.4},{"z":245,"r":-112.5,"v":15.8},{"z":255,"r":-112.5,"v":15.1},{"z":265,"r":-112.5,"v":14.5},{"z":275,"r":-112.5,"v":13.7},{"z":285,"r":-112.5,"v":13},{"z":295,"r":-112.5,"v":12.3},
{"z":-295,"r":-127.5,"v":12.2},{"z":-285,"r":-127.5,"v":12.9},{"z":-275,"r":-127.5,"v":13.6},{"z":-265,"r":-127.5,"v":14.3},{"z":-255,"r":-127.5,"v":15},{"z":-245,"r":-127.5,"v":15.6},{"z":-235,"r":-127.5,"v":16.2},{"z":-225,"r":-127.5,"v":16.9},{"z":-215,"r":-127.5,"v":17.5},{"z":-205,"r":-127.5,"v":18},{"z":-195,"r":-127.5,"v":18.5},{"z":-185,"r":-127.5,"v":19},{"z":-175,"r":-127.5,"v":19.4},{"z":-165,"r":-127.5,"v":19.9},{"z":165,"r":-127.5,"v":19.9},{"z":175,"r":-127.5,"v":19.4},{"z":185,"r":-127.5,"v":19},{"z":195,"r":-127.5,"v":18.5},{"z":205,"r":-127.5,"v":18},{"z":215,"r":-127.5,"v":17.5},{"z":225,"r":-127.5,"v":16.9},{"z":235,"r":-127.5,"v":16.2},{"z":245,"r":-127.5,"v":15.6},{"z":255,"r":-127.5,"v":15},{"z":265,"r":-127.5,"v":14.3},{"z":275,"r":-127.5,"v":13.6},{"z":285,"r":-127.5,"v":12.9},{"z":295,"r":-127.5,"v":12.2},
{"z":-295,"r":-142.5,"v":12.2},{"z":-285,"r":-142.5,"v":12.8},{"z":-275,"r":-142.5,"v":13.5},{"z":-265,"r":-142.5,"v":14.2},{"z":-255,"r":-142.5,"v":14.9},{"z":-245,"r":-142.5,"v":15.5},{"z":-235,"r":-142.5,"v":16.1},{"z":-225,"r":-142.5,"v":16.7},{"z":-215,"r":-142.5,"v":17.3},{"z":-205,"r":-142.5,"v":17.9},{"z":-195,"r":-142.5,"v":18.4},{"z":-185,"r":-142.5,"v":18.8},{"z":-175,"r":-142.5,"v":19.2},{"z":-165,"r":-142.5,"v":19.6},{"z":165,"r":-142.5,"v":19.6},{"z":175,"r":-142.5,"v":19.2},{"z":185,"r":-142.5,"v":18.8},{"z":195,"r":-142.5,"v":18.4},{"z":205,"r":-142.5,"v":17.9},{"z":215,"r":-142.5,"v":17.3},{"z":225,"r":-142.5,"v":16.7},{"z":235,"r":-142.5,"v":16.1},{"z":245,"r":-142.5,"v":15.5},{"z":255,"r":-142.5,"v":14.9},{"z":265,"r":-142.5,"v":14.2},{"z":275,"r":-142.5,"v":13.5},{"z":285,"r":-142.5,"v":12.8},{"z":295,"r":-142.5,"v":12.2}
]},
"layer":[
{"data":{"name":"inner"},
 "mark":{"type":"rect","binSpacing":0,"strokeWidth":0.6},
 "encoding":{
  "x":{"field":"z","type":"quantitative","bin":{"extent":[-160,160],"step":10},"scale":{"domain":[-300,300],"nice":false,"zero":false},
       "axis":{"orient":"bottom","values":[-300,-270,-240,-210,-180,-150,-120,-90,-60,-30,0,30,60,90,120,150,180,210,240,270,300],"labelExpr":"datum.value + ''","labelPadding":11,"labelOverlap":false,"labelFlush":false,"title":null}},
  "y":{"field":"r","type":"quantitative","bin":{"extent":[-150,150],"step":10},"scale":{"domain":[-150,150],"nice":false,"zero":false},
       "axis":{"orient":"left","values":[-150,-135,-120,-105,-90,-75,-60,-45,-30,-15,0,15,30,45,60,75,90,105,120,135,150],"labelExpr":"datum.value + ''","labelPadding":8,"labelOverlap":false,"labelFlush":false,"title":null}},
  "color":{"field":"v","type":"quantitative",
    "scale":{"domain":[0,6.25,12.5,18.75,25,31.25,37.5,43.75,50,56.25,62.5,68.75,75,81.25,87.5,93.75,100],
             "range":["#000000","#000058","#0000b4","#0000ff","#2b2be6","#6868b4","#8f8f8a","#cccc44","#ffff00","#c0f800","#60f000","#10e010","#30c000","#659a00","#9a6600","#cc3300","#ff0000"],"interpolate":"rgb"},
    "legend":{"type":"gradient","orient":"none","legendX":-40,"legendY":-48,"direction":"horizontal","gradientLength":1075,"gradientThickness":24,
      "values":[0,6.25,12.5,18.75,25,31.25,37.5,43.75,50,56.25,62.5,68.75,75,81.25,87.5,93.75,100],
      "labelExpr":"datum.value == 12.5 ? '12' : datum.value == 62.5 ? '62' : datum.value == 100 ? '100 V' : format(datum.value, '.0f')",
      "labelOffset":-42,"labelOverlap":false,"title":null,"labelFont":"Liberation Sans","labelFontSize":17,"labelColor":"#333","padding":0,"gradientStrokeWidth":0}},
  "stroke":{"field":"v","type":"quantitative",
    "scale":{"domain":[0,6.25,12.5,18.75,25,31.25,37.5,43.75,50,56.25,62.5,68.75,75,81.25,87.5,93.75,100.01],
             "range":["#000000","#000058","#0000b4","#0000ff","#2b2be6","#6868b4","#8f8f8a","#cccc44","#ffff00","#c0f800","#60f000","#10e010","#30c000","#659a00","#9a6600","#cc3300","#ff0000"],"interpolate":"rgb"},
    "legend":null}
 }},
{"data":{"name":"core"},
 "mark":{"type":"rect","binSpacing":0,"strokeWidth":0.5},
 "encoding":{
  "x":{"field":"z","type":"quantitative","bin":{"extent":[-70,70],"step":5},"axis":null},
  "y":{"field":"r","type":"quantitative","bin":{"extent":[-90,90],"step":5},"axis":null},
  "color":{"field":"v","type":"quantitative","legend":null},
  "stroke":{"field":"v","type":"quantitative","legend":null}
 }},
{"data":{"name":"outer"},
 "mark":{"type":"rect","binSpacing":0,"strokeWidth":0.6},
 "encoding":{
  "x":{"field":"z","type":"quantitative","bin":{"extent":[-300,300],"step":10},
       "axis":{"orient":"top","values":[-300,-270,-240,-210,-180,-150,-120,-90,-60,-30,0,30,60,90,120,150,180,210,240,270,300],"labelExpr":"datum.value + ''","labelPadding":6,"labelOverlap":false,"labelFlush":false,"title":null}},
  "y":{"field":"r","type":"quantitative","bin":{"extent":[-150,150],"step":15},
       "axis":{"orient":"right","values":[-150,-135,-120,-105,-90,-75,-60,-45,-30,-15,0,15,30,45,60,75,90,105,120,135,150],"labelExpr":"datum.value + ''","labelPadding":10,"labelOverlap":false,"labelFlush":false,"title":null}},
  "color":{"field":"v","type":"quantitative","legend":null},
  "stroke":{"field":"v","type":"quantitative","legend":null}
 }},
{"data":{"values":[{}]},"mark":{"type":"rect","fill":"white","stroke":"#a08888","strokeWidth":1},
 "encoding":{"x":{"datum":-10,"type":"quantitative","axis":null},"x2":{"datum":10},"y":{"datum":51,"type":"quantitative","axis":null},"y2":{"datum":40}}},
{"data":{"values":[{}]},"mark":{"type":"rect","fill":"white","stroke":"#a08888","strokeWidth":1},
 "encoding":{"x":{"datum":-10,"type":"quantitative","axis":null},"x2":{"datum":10},"y":{"datum":-40,"type":"quantitative","axis":null},"y2":{"datum":-51}}},
{"data":{"values":[{}]},"mark":{"type":"rect","fill":"white"},
 "encoding":{"x":{"datum":-33.3,"type":"quantitative","axis":null},"x2":{"datum":-13.3},"y":{"datum":148.8,"type":"quantitative","axis":null},"y2":{"datum":129.3}}},
{"data":{"values":[{}]},"mark":{"type":"text","text":"r","font":"Liberation Sans","fontWeight":"bold","fontSize":35,"baseline":"alphabetic","align":"center","fill":"black"},
 "encoding":{"x":{"datum":-27.3,"type":"quantitative","axis":null},"y":{"datum":132.4,"type":"quantitative","axis":null}}},
{"data":{"values":[{}]},"mark":{"type":"text","text":"z","font":"Liberation Sans","fontWeight":"bold","fontSize":35,"baseline":"alphabetic","align":"center","fill":"black"},
 "encoding":{"x":{"datum":355.2,"type":"quantitative","axis":null},"y":{"datum":-5.5,"type":"quantitative","axis":null}}},
{"data":{"values":[{}]},"mark":{"type":"rule","color":"black","strokeWidth":3.5,"strokeCap":"round"},
 "encoding":{"x":{"datum":-3,"type":"quantitative","axis":null},"x2":{"datum":-3},"y":{"datum":106,"type":"quantitative","axis":null},"y2":{"datum":147.5}}},
{"data":{"values":[{}]},"mark":{"type":"rule","color":"black","strokeWidth":3.5,"strokeCap":"round"},
 "encoding":{"x":{"datum":-3,"type":"quantitative","axis":null},"x2":{"datum":-11.5},"y":{"datum":147.5,"type":"quantitative","axis":null},"y2":{"datum":138.4}}},
{"data":{"values":[{}]},"mark":{"type":"rule","color":"black","strokeWidth":3.5,"strokeCap":"round"},
 "encoding":{"x":{"datum":-3,"type":"quantitative","axis":null},"x2":{"datum":9.1},"y":{"datum":147.5,"type":"quantitative","axis":null},"y2":{"datum":135.4}}},
{"data":{"values":[{}]},"mark":{"type":"rule","color":"black","strokeWidth":4,"strokeCap":"round"},
 "encoding":{"x":{"datum":314,"type":"quantitative","axis":null},"x2":{"datum":345.5},"y":{"datum":0,"type":"quantitative","axis":null},"y2":{"datum":0}}},
{"data":{"values":[{}]},"mark":{"type":"rule","color":"black","strokeWidth":4,"strokeCap":"round"},
 "encoding":{"x":{"datum":345.5,"type":"quantitative","axis":null},"x2":{"datum":338},"y":{"datum":0,"type":"quantitative","axis":null},"y2":{"datum":4.5}}},
{"data":{"values":[{}]},"mark":{"type":"rule","color":"black","strokeWidth":4,"strokeCap":"round"},
 "encoding":{"x":{"datum":345.5,"type":"quantitative","axis":null},"x2":{"datum":338},"y":{"datum":0,"type":"quantitative","axis":null},"y2":{"datum":-4.5}}}
],
"resolve":{"axis":{"x":"independent","y":"independent"}}
}
